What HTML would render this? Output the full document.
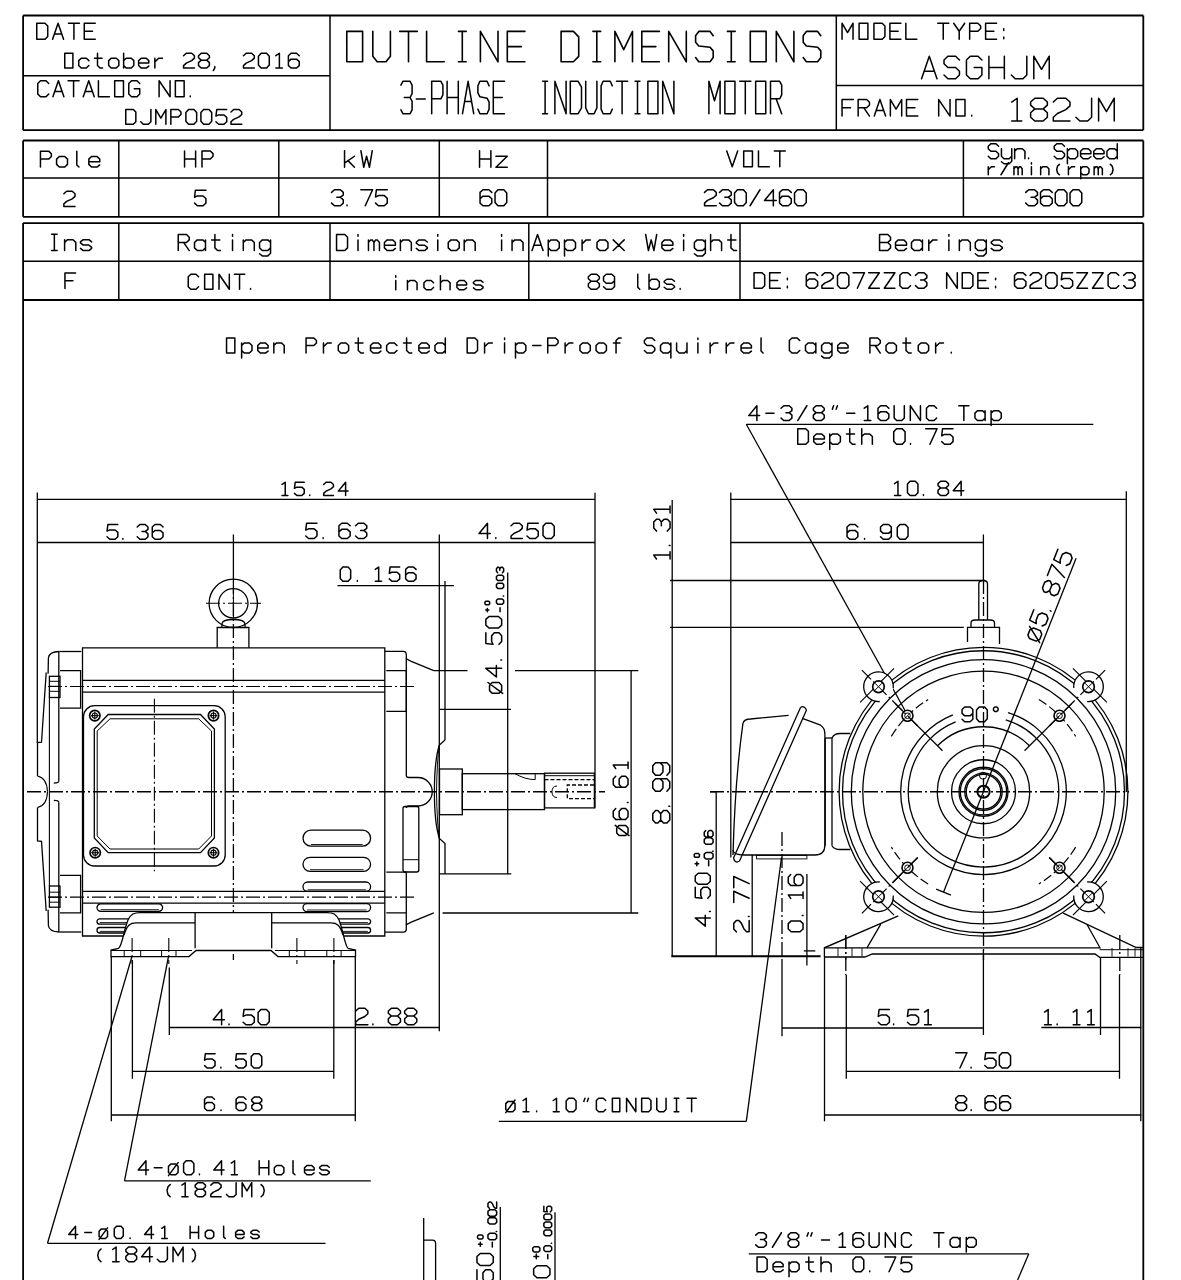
<!DOCTYPE html>
<html><head><meta charset="utf-8"><style>
html,body{margin:0;padding:0;background:#fff;font-family:"Liberation Sans",sans-serif;}
svg{display:block;}
text{white-space:pre;}
</style></head><body>
<svg width="1181" height="1280" viewBox="0 0 1181 1280" stroke-linecap="butt">
<rect width="1181" height="1280" fill="#fff"/>
<line x1="23.10" y1="15.50" x2="1143.30" y2="15.50" stroke="#000" stroke-width="1.80"/>
<line x1="23.10" y1="130.20" x2="1143.30" y2="130.20" stroke="#000" stroke-width="1.80"/>
<line x1="23.10" y1="15.50" x2="23.10" y2="130.20" stroke="#000" stroke-width="1.80"/>
<line x1="1143.30" y1="15.50" x2="1143.30" y2="130.20" stroke="#000" stroke-width="1.80"/>
<line x1="330.00" y1="15.50" x2="330.00" y2="130.20" stroke="#000" stroke-width="1.50"/>
<line x1="836.30" y1="15.50" x2="836.30" y2="130.20" stroke="#000" stroke-width="1.50"/>
<line x1="23.10" y1="75.80" x2="330.00" y2="75.80" stroke="#000" stroke-width="1.50"/>
<line x1="836.30" y1="85.50" x2="1143.30" y2="85.50" stroke="#000" stroke-width="1.50"/>
<path d="M36.75 39.25 L36.75 23.25 L44.99 23.25 L47.74 25.92 L47.74 36.58 L44.99 39.25 L36.75 39.25 M52.59 39.25 L58.08 23.25 L63.57 39.25 M54.43 33.92 L61.73 33.92 M68.43 23.25 L79.41 23.25 M73.92 23.25 L73.92 39.25 M95.25 23.25 L84.26 23.25 L84.26 39.25 L95.25 39.25 M84.26 31.25 L92.50 31.25" fill="none" stroke="#000" stroke-width="1.50" stroke-linecap="round" stroke-linejoin="round"/>
<path d="M64.75 68.05 L64.75 53.25 L72.88 53.25 L72.88 68.05 L64.75 68.05 M88.87 60.65 L86.33 58.18 L81.25 58.18 L78.71 60.65 L78.71 65.58 L81.25 68.05 L86.33 68.05 L88.87 65.58 M97.50 53.25 L97.50 65.58 L100.04 68.05 L102.58 68.05 M94.45 58.18 L102.07 58.18 M111.21 68.05 L108.67 65.58 L108.67 60.65 L111.21 58.18 L116.29 58.18 L118.83 60.65 L118.83 65.58 L116.29 68.05 L111.21 68.05 M123.64 53.25 L123.64 68.05 M123.64 65.58 L126.18 68.05 L131.27 68.05 L133.81 65.58 L133.81 60.65 L131.27 58.18 L126.18 58.18 L123.64 60.65 M138.62 63.12 L148.78 63.12 L148.78 60.65 L146.24 58.18 L141.16 58.18 L138.62 60.65 L138.62 65.58 L141.16 68.05 L146.24 68.05 L148.78 66.08 M154.87 58.18 L154.87 68.05 M154.87 61.88 L158.68 58.18 L162.49 58.18 M183.55 55.72 L186.27 53.25 L191.69 53.25 L194.41 55.72 L194.41 58.18 L191.69 60.65 L186.27 63.12 L183.55 65.58 L183.55 68.05 L194.41 68.05 M201.24 60.16 L198.53 57.69 L198.53 55.72 L201.24 53.25 L206.67 53.25 L209.38 55.72 L209.38 57.69 L206.67 60.16 L201.24 60.16 L198.53 62.62 L198.53 65.58 L201.24 68.05 L206.67 68.05 L209.38 65.58 L209.38 62.62 L206.67 60.16 M214.78 66.57 L214.78 68.05 L213.25 70.52 M243.46 55.72 L246.18 53.25 L251.60 53.25 L254.32 55.72 L254.32 58.18 L251.60 60.65 L246.18 63.12 L243.46 65.58 L243.46 68.05 L254.32 68.05 M261.15 68.05 L258.44 65.09 L258.44 56.21 L261.15 53.25 L266.58 53.25 L269.29 56.21 L269.29 65.09 L266.58 68.05 L261.15 68.05 M275.86 55.72 L279.39 53.25 L279.39 68.05 M275.86 68.05 L282.37 68.05 M299.25 55.72 L296.54 53.25 L291.11 53.25 L288.40 55.72 L288.40 65.58 L291.11 68.05 L296.54 68.05 L299.25 65.58 L299.25 61.64 L296.54 59.17 L291.11 59.17 L288.40 61.64" fill="none" stroke="#000" stroke-width="1.50" stroke-linecap="round" stroke-linejoin="round"/>
<path d="M48.74 83.42 L45.99 80.75 L40.50 80.75 L37.75 83.42 L37.75 94.08 L40.50 96.75 L45.99 96.75 L48.74 94.08 M52.92 96.75 L58.41 80.75 L63.90 96.75 M54.76 91.42 L62.06 91.42 M68.09 80.75 L79.07 80.75 M73.58 80.75 L73.58 96.75 M83.25 96.75 L88.75 80.75 L94.24 96.75 M85.09 91.42 L92.40 91.42 M98.42 80.75 L98.42 96.75 L109.41 96.75 M114.69 96.75 L114.69 80.75 L123.48 80.75 L123.48 96.75 L114.69 96.75 M139.74 83.42 L137.00 80.75 L131.50 80.75 L128.76 83.42 L128.76 94.08 L131.50 96.75 L137.00 96.75 L139.74 94.08 L139.74 88.75 L134.25 88.75 M159.09 96.75 L159.09 80.75 L170.08 96.75 L170.08 80.75 M175.36 96.75 L175.36 80.75 L184.15 80.75 L184.15 96.75 L175.36 96.75 M190.25 96.75 L190.25 95.95" fill="none" stroke="#000" stroke-width="1.50" stroke-linecap="round" stroke-linejoin="round"/>
<path d="M125.75 124.25 L125.75 109.55 L133.32 109.55 L135.84 112.00 L135.84 121.80 L133.32 124.25 L125.75 124.25 M150.88 109.55 L150.88 121.80 L148.35 124.25 L143.30 124.25 L140.78 121.80 M155.81 124.25 L155.81 109.55 L160.86 118.12 L165.91 109.55 L165.91 124.25 M170.84 124.25 L170.84 109.55 L178.41 109.55 L180.94 112.00 L180.94 114.45 L178.41 116.90 L170.84 116.90 M188.57 124.25 L185.88 121.31 L185.88 112.49 L188.57 109.55 L193.96 109.55 L196.66 112.49 L196.66 121.31 L193.96 124.25 L188.57 124.25 M203.60 124.25 L200.91 121.31 L200.91 112.49 L203.60 109.55 L208.99 109.55 L211.69 112.49 L211.69 121.31 L208.99 124.25 L203.60 124.25 M226.72 109.55 L216.75 109.55 L215.94 116.16 L218.63 114.94 L224.02 114.94 L226.72 117.39 L226.72 121.80 L224.02 124.25 L218.63 124.25 L215.94 121.80 M230.97 112.00 L233.66 109.55 L239.06 109.55 L241.75 112.00 L241.75 114.45 L239.06 116.90 L233.66 119.35 L230.97 121.80 L230.97 124.25 L241.75 124.25" fill="none" stroke="#000" stroke-width="1.50" stroke-linecap="round" stroke-linejoin="round"/>
<path d="M842.05 39.25 L842.05 23.25 L847.54 32.58 L853.04 23.25 L853.04 39.25 M859.10 39.25 L859.10 23.25 L867.89 23.25 L867.89 39.25 L859.10 39.25 M873.95 39.25 L873.95 23.25 L882.19 23.25 L884.94 25.92 L884.94 36.58 L882.19 39.25 L873.95 39.25 M900.89 23.25 L889.90 23.25 L889.90 39.25 L900.89 39.25 M889.90 31.25 L898.14 31.25 M905.85 23.25 L905.85 39.25 L916.84 39.25 M937.75 23.25 L948.74 23.25 M943.24 23.25 L943.24 39.25 M953.70 23.25 L959.20 31.25 L964.69 23.25 M959.20 31.25 L959.20 39.25 M969.65 39.25 L969.65 23.25 L977.89 23.25 L980.64 25.92 L980.64 28.58 L977.89 31.25 L969.65 31.25 M996.59 23.25 L985.60 23.25 L985.60 39.25 L996.59 39.25 M985.60 31.25 L993.84 31.25 M1003.75 30.45 L1003.75 28.85 M1003.75 38.72 L1003.75 37.12" fill="none" stroke="#000" stroke-width="1.50" stroke-linecap="round" stroke-linejoin="round"/>
<path d="M921.55 78.75 L929.27 56.25 L937.00 78.75 M924.14 71.25 L934.41 71.25 M959.45 60.00 L955.59 56.25 L947.86 56.25 L944.00 60.00 L944.00 63.75 L947.86 67.50 L955.59 67.50 L959.45 71.25 L959.45 75.00 L955.59 78.75 L947.86 78.75 L944.00 75.00 M981.90 60.00 L978.04 56.25 L970.31 56.25 L966.45 60.00 L966.45 75.00 L970.31 78.75 L978.04 78.75 L981.90 75.00 L981.90 67.50 L974.17 67.50 M988.90 78.75 L988.90 56.25 M1004.35 78.75 L1004.35 56.25 M988.90 67.50 L1004.35 67.50 M1026.80 56.25 L1026.80 75.00 L1022.94 78.75 L1015.21 78.75 L1011.35 75.00 M1033.80 78.75 L1033.80 56.25 L1041.53 69.38 L1049.25 56.25 L1049.25 78.75" fill="none" stroke="#000" stroke-width="1.50" stroke-linecap="round" stroke-linejoin="round"/>
<path d="M853.38 99.55 L842.05 99.55 L842.05 116.05 M842.05 107.80 L850.55 107.80 M858.16 116.05 L858.16 99.55 L866.65 99.55 L869.49 102.30 L869.49 105.05 L866.65 107.80 L858.16 107.80 M863.82 107.80 L869.49 116.05 M874.26 116.05 L879.93 99.55 L885.59 116.05 M876.16 110.55 L883.69 110.55 M890.37 116.05 L890.37 99.55 L896.03 109.17 L901.70 99.55 L901.70 116.05 M917.81 99.55 L906.48 99.55 L906.48 116.05 L917.81 116.05 M906.48 107.80 L914.97 107.80 M938.69 116.05 L938.69 99.55 L950.02 116.05 L950.02 99.55 M955.93 116.05 L955.93 99.55 L964.99 99.55 L964.99 116.05 L955.93 116.05 M971.75 116.05 L971.75 115.22" fill="none" stroke="#000" stroke-width="1.50" stroke-linecap="round" stroke-linejoin="round"/>
<path d="M1011.75 102.05 L1017.18 98.25 L1017.18 121.05 M1011.75 121.05 L1021.78 121.05 M1034.82 108.89 L1030.64 105.09 L1030.64 102.05 L1034.82 98.25 L1043.18 98.25 L1047.36 102.05 L1047.36 105.09 L1043.18 108.89 L1034.82 108.89 L1030.64 112.69 L1030.64 117.25 L1034.82 121.05 L1043.18 121.05 L1047.36 117.25 L1047.36 112.69 L1043.18 108.89 M1053.29 102.05 L1057.47 98.25 L1065.83 98.25 L1070.01 102.05 L1070.01 105.85 L1065.83 109.65 L1057.47 113.45 L1053.29 117.25 L1053.29 121.05 L1070.01 121.05 M1091.60 98.25 L1091.60 117.25 L1087.68 121.05 L1079.86 121.05 L1075.94 117.25 M1098.59 121.05 L1098.59 98.25 L1106.42 111.55 L1114.25 98.25 L1114.25 121.05" fill="none" stroke="#000" stroke-width="1.50" stroke-linecap="round" stroke-linejoin="round"/>
<path d="M346.78 31.40 L362.62 31.40 L362.62 61.80 L346.78 61.80 Z M372.80 31.40 L372.80 56.33 L377.20 61.80 L386.00 61.80 L390.40 56.33 L390.40 31.40 M399.70 31.40 L417.30 31.40 M408.50 31.40 L408.50 61.80 M426.60 31.40 L426.60 61.80 L444.20 61.80 M458.43 31.40 L466.17 31.40 M462.30 31.40 L462.30 61.80 M458.43 61.80 L466.17 61.80 M480.40 61.80 L480.40 31.40 L498.00 61.80 L498.00 31.40 M524.90 31.40 L507.30 31.40 L507.30 61.80 L524.90 61.80 M507.30 46.60 L521.38 46.60 M561.10 31.40 L561.10 61.80 L573.42 61.80 L578.70 56.33 L578.70 36.87 L573.42 31.40 Z M592.93 31.40 L600.67 31.40 M596.80 31.40 L596.80 61.80 M592.93 61.80 L600.67 61.80 M614.90 61.80 L614.90 31.40 L623.70 49.64 L632.50 31.40 L632.50 61.80 M659.40 31.40 L641.80 31.40 L641.80 61.80 L659.40 61.80 M641.80 46.60 L655.88 46.60 M668.70 61.80 L668.70 31.40 L686.30 61.80 L686.30 31.40 M713.20 35.66 L710.03 31.40 L698.77 31.40 L695.60 35.66 L695.60 42.34 L698.77 45.99 L710.03 47.21 L713.20 50.86 L713.20 57.54 L710.03 61.80 L698.77 61.80 L695.60 57.54 M727.43 31.40 L735.17 31.40 M731.30 31.40 L731.30 61.80 M727.43 61.80 L735.17 61.80 M750.28 31.40 L766.12 31.40 L766.12 61.80 L750.28 61.80 Z M776.30 61.80 L776.30 31.40 L793.90 61.80 L793.90 31.40 M820.80 35.66 L817.63 31.40 L806.37 31.40 L803.20 35.66 L803.20 42.34 L806.37 45.99 L817.63 47.21 L820.80 50.86 L820.80 57.54 L817.63 61.80 L806.37 61.80 L803.20 57.54" fill="none" stroke="#000" stroke-width="1.60" stroke-linejoin="round" stroke-linecap="round"/>
<path d="M400.90 85.19 L402.92 81.30 L410.08 81.30 L412.10 85.19 L412.10 93.61 L410.08 97.50 L404.26 97.50 M410.08 97.50 L412.10 101.39 L412.10 109.81 L410.08 113.70 L402.92 113.70 L400.90 109.81 M416.30 99.12 L425.26 99.12 M431.70 113.70 L431.70 81.30 L440.88 81.30 L442.90 85.19 L442.90 94.91 L440.88 98.80 L431.70 98.80 M447.10 81.30 L447.10 113.70 M458.30 81.30 L458.30 113.70 M447.10 97.50 L458.30 97.50 M462.50 113.70 L468.10 81.30 L473.70 113.70 M464.96 101.39 L471.24 101.39 M489.10 85.84 L487.08 81.30 L479.92 81.30 L477.90 85.84 L477.90 92.96 L479.92 96.85 L487.08 98.15 L489.10 102.04 L489.10 109.16 L487.08 113.70 L479.92 113.70 L477.90 109.16 M504.50 81.30 L493.30 81.30 L493.30 113.70 L504.50 113.70 M493.30 97.50 L502.26 97.50 M542.64 81.30 L547.56 81.30 M545.10 81.30 L545.10 113.70 M542.64 113.70 L547.56 113.70 M554.90 113.70 L554.90 81.30 L566.10 113.70 L566.10 81.30 M570.30 81.30 L570.30 113.70 L578.14 113.70 L581.50 107.87 L581.50 87.13 L578.14 81.30 Z M585.70 81.30 L585.70 107.87 L588.50 113.70 L594.10 113.70 L596.90 107.87 L596.90 81.30 M612.30 85.84 L610.28 81.30 L603.12 81.30 L601.10 85.84 L601.10 109.16 L603.12 113.70 L610.28 113.70 L612.30 109.16 M616.50 81.30 L627.70 81.30 M622.10 81.30 L622.10 113.70 M635.04 81.30 L639.96 81.30 M637.50 81.30 L637.50 113.70 M635.04 113.70 L639.96 113.70 M647.86 81.30 L657.94 81.30 L657.94 113.70 L647.86 113.70 Z M662.70 113.70 L662.70 81.30 L673.90 113.70 L673.90 81.30 M708.90 113.70 L708.90 81.30 L714.50 100.74 L720.10 81.30 L720.10 113.70 M724.86 81.30 L734.94 81.30 L734.94 113.70 L724.86 113.70 Z M739.70 81.30 L750.90 81.30 M745.30 81.30 L745.30 113.70 M755.66 81.30 L765.74 81.30 L765.74 113.70 L755.66 113.70 Z M770.50 113.70 L770.50 81.30 L779.68 81.30 L781.70 85.19 L781.70 94.91 L779.68 98.80 L770.50 98.80 M776.10 98.80 L781.70 113.70" fill="none" stroke="#000" stroke-width="1.50" stroke-linejoin="round" stroke-linecap="round"/>
<line x1="23.10" y1="140.50" x2="1143.30" y2="140.50" stroke="#000" stroke-width="1.80"/>
<line x1="23.10" y1="178.00" x2="1143.30" y2="178.00" stroke="#000" stroke-width="1.50"/>
<line x1="23.10" y1="216.80" x2="1143.30" y2="216.80" stroke="#000" stroke-width="1.80"/>
<line x1="23.10" y1="140.50" x2="23.10" y2="216.80" stroke="#000" stroke-width="1.80"/>
<line x1="1143.30" y1="140.50" x2="1143.30" y2="216.80" stroke="#000" stroke-width="1.80"/>
<line x1="118.80" y1="140.50" x2="118.80" y2="216.80" stroke="#000" stroke-width="1.50"/>
<line x1="278.80" y1="140.50" x2="278.80" y2="216.80" stroke="#000" stroke-width="1.50"/>
<line x1="439.30" y1="140.50" x2="439.30" y2="216.80" stroke="#000" stroke-width="1.50"/>
<line x1="547.50" y1="140.50" x2="547.50" y2="216.80" stroke="#000" stroke-width="1.50"/>
<line x1="963.40" y1="140.50" x2="963.40" y2="216.80" stroke="#000" stroke-width="1.50"/>
<path d="M40.45 167.05 L40.45 151.15 L48.64 151.15 L51.37 153.80 L51.37 156.45 L48.64 159.10 L40.45 159.10 M59.31 167.05 L56.58 164.40 L56.58 159.10 L59.31 156.45 L64.77 156.45 L67.50 159.10 L67.50 164.40 L64.77 167.05 L59.31 167.05 M76.80 151.15 L76.80 164.93 L78.98 167.05 M88.83 161.75 L99.75 161.75 L99.75 159.10 L97.02 156.45 L91.56 156.45 L88.83 159.10 L88.83 164.40 L91.56 167.05 L97.02 167.05 L99.75 164.93" fill="none" stroke="#000" stroke-width="1.50" stroke-linecap="round" stroke-linejoin="round"/>
<path d="M184.55 167.05 L184.55 150.95 M195.61 167.05 L195.61 150.95 M184.55 159.00 L195.61 159.00 M201.99 167.05 L201.99 150.95 L210.29 150.95 L213.05 153.63 L213.05 156.32 L210.29 159.00 L201.99 159.00" fill="none" stroke="#000" stroke-width="1.50" stroke-linecap="round" stroke-linejoin="round"/>
<path d="M344.55 150.75 L344.55 167.25 M354.46 156.25 L344.55 163.12 M347.95 160.65 L354.46 167.25 M360.92 150.75 L363.75 167.25 L366.58 156.25 L369.42 167.25 L372.25 150.75" fill="none" stroke="#000" stroke-width="1.50" stroke-linecap="round" stroke-linejoin="round"/>
<path d="M479.55 167.25 L479.55 150.75 M490.88 167.25 L490.88 150.75 M479.55 159.00 L490.88 159.00 M495.92 156.25 L507.25 156.25 L495.92 167.25 L507.25 167.25" fill="none" stroke="#000" stroke-width="1.50" stroke-linecap="round" stroke-linejoin="round"/>
<path d="M726.75 150.95 L732.21 166.85 L737.67 150.95 M743.70 166.85 L743.70 150.95 L752.44 150.95 L752.44 166.85 L743.70 166.85 M758.47 150.95 L758.47 166.85 L769.39 166.85 M774.33 150.95 L785.25 150.95 M779.79 150.95 L779.79 166.85" fill="none" stroke="#000" stroke-width="1.50" stroke-linecap="round" stroke-linejoin="round"/>
<path d="M998.55 146.25 L995.98 143.75 L990.83 143.75 L988.25 146.25 L988.25 148.75 L990.83 151.25 L995.98 151.25 L998.55 153.75 L998.55 156.25 L995.98 158.75 L990.83 158.75 L988.25 156.25 M1001.44 148.75 L1001.44 156.25 L1004.01 158.75 L1009.16 158.75 L1011.74 156.25 M1011.74 148.75 L1011.74 161.25 L1009.16 163.75 L1004.01 163.75 L1001.44 161.75 M1014.63 148.75 L1014.63 158.75 M1014.63 151.25 L1017.20 148.75 L1022.35 148.75 L1024.93 151.25 L1024.93 158.75 M1028.59 158.75 L1028.59 158.00 M1064.49 146.25 L1061.92 143.75 L1056.77 143.75 L1054.19 146.25 L1054.19 148.75 L1056.77 151.25 L1061.92 151.25 L1064.49 153.75 L1064.49 156.25 L1061.92 158.75 L1056.77 158.75 L1054.19 156.25 M1067.38 148.75 L1067.38 163.75 M1067.38 151.25 L1069.96 148.75 L1075.11 148.75 L1077.68 151.25 L1077.68 156.25 L1075.11 158.75 L1069.96 158.75 L1067.38 156.25 M1080.57 153.75 L1090.87 153.75 L1090.87 151.25 L1088.30 148.75 L1083.15 148.75 L1080.57 151.25 L1080.57 156.25 L1083.15 158.75 L1088.30 158.75 L1090.87 156.75 M1093.76 153.75 L1104.06 153.75 L1104.06 151.25 L1101.49 148.75 L1096.34 148.75 L1093.76 151.25 L1093.76 156.25 L1096.34 158.75 L1101.49 158.75 L1104.06 156.75 M1117.25 143.75 L1117.25 158.75 M1117.25 151.25 L1114.67 148.75 L1109.53 148.75 L1106.95 151.25 L1106.95 156.25 L1109.53 158.75 L1114.67 158.75 L1117.25 156.25" fill="none" stroke="#000" stroke-width="1.50" stroke-linecap="round" stroke-linejoin="round"/>
<path d="M988.25 166.75 L988.25 174.75 M988.25 169.75 L991.34 166.75 L994.43 166.75 M1001.00 174.75 L1008.41 162.75 M1013.95 166.75 L1013.95 174.75 M1013.95 168.75 L1015.59 166.75 L1016.83 166.75 L1018.07 168.75 L1018.07 174.75 M1018.07 168.75 L1019.30 166.75 L1020.54 166.75 L1022.19 168.75 L1022.19 174.75 M1031.43 166.75 L1031.43 174.75 M1031.43 163.95 L1031.43 162.75 M1040.67 166.75 L1040.67 174.75 M1040.67 168.75 L1042.73 166.75 L1046.85 166.75 L1048.91 168.75 L1048.91 174.75 M1059.39 164.35 L1057.54 166.15 L1056.71 169.55 L1057.54 172.95 L1059.39 174.75 M1068.43 166.75 L1068.43 174.75 M1068.43 169.75 L1071.52 166.75 L1074.61 166.75 M1080.76 166.75 L1080.76 178.75 M1080.76 168.75 L1082.82 166.75 L1086.94 166.75 L1089.00 168.75 L1089.00 172.75 L1086.94 174.75 L1082.82 174.75 L1080.76 172.75 M1094.12 166.75 L1094.12 174.75 M1094.12 168.75 L1095.77 166.75 L1097.01 166.75 L1098.24 168.75 L1098.24 174.75 M1098.24 168.75 L1099.48 166.75 L1100.72 166.75 L1102.36 168.75 L1102.36 174.75 M1110.37 164.35 L1112.23 166.15 L1113.05 169.55 L1112.23 172.95 L1110.37 174.75" fill="none" stroke="#000" stroke-width="1.50" stroke-linecap="round" stroke-linejoin="round"/>
<path d="M63.85 193.78 L66.64 191.25 L72.21 191.25 L75.00 193.78 L75.00 196.32 L72.21 198.85 L66.64 201.38 L63.85 203.92 L63.85 206.45 L75.00 206.45" fill="none" stroke="#000" stroke-width="1.50" stroke-linecap="round" stroke-linejoin="round"/>
<path d="M205.92 190.25 L195.40 190.25 L194.55 197.22 L197.39 195.93 L203.08 195.93 L205.92 198.52 L205.92 203.17 L203.08 205.75 L197.39 205.75 L194.55 203.17" fill="none" stroke="#000" stroke-width="1.50" stroke-linecap="round" stroke-linejoin="round"/>
<path d="M331.55 192.42 L334.48 189.75 L340.35 189.75 L343.28 192.42 L343.28 195.08 L340.35 197.22 L336.83 197.22 M340.35 197.22 L343.28 199.88 L343.28 203.08 L340.35 205.75 L334.48 205.75 L331.55 203.08 M347.03 205.75 L347.03 204.95 M360.86 189.75 L372.59 189.75 L365.26 205.75 M387.25 189.75 L376.40 189.75 L375.52 196.95 L378.45 195.62 L384.32 195.62 L387.25 198.28 L387.25 203.08 L384.32 205.75 L378.45 205.75 L375.52 203.08" fill="none" stroke="#000" stroke-width="1.50" stroke-linecap="round" stroke-linejoin="round"/>
<path d="M491.78 192.42 L488.85 189.75 L482.98 189.75 L480.05 192.42 L480.05 203.08 L482.98 205.75 L488.85 205.75 L491.78 203.08 L491.78 198.82 L488.85 196.15 L482.98 196.15 L480.05 198.82 M497.95 205.75 L495.02 202.55 L495.02 192.95 L497.95 189.75 L503.82 189.75 L506.75 192.95 L506.75 202.55 L503.82 205.75 L497.95 205.75" fill="none" stroke="#000" stroke-width="1.50" stroke-linecap="round" stroke-linejoin="round"/>
<path d="M704.55 192.42 L707.48 189.75 L713.35 189.75 L716.28 192.42 L716.28 195.08 L713.35 197.75 L707.48 200.42 L704.55 203.08 L704.55 205.75 L716.28 205.75 M719.54 192.42 L722.48 189.75 L728.34 189.75 L731.28 192.42 L731.28 195.08 L728.34 197.22 L724.82 197.22 M728.34 197.22 L731.28 199.88 L731.28 203.08 L728.34 205.75 L722.48 205.75 L719.54 203.08 M737.47 205.75 L734.54 202.55 L734.54 192.95 L737.47 189.75 L743.34 189.75 L746.27 192.95 L746.27 202.55 L743.34 205.75 L737.47 205.75 M750.08 205.75 L759.97 189.75 M773.33 205.75 L773.33 189.75 L764.53 200.42 L776.26 200.42 M791.26 192.42 L788.32 189.75 L782.46 189.75 L779.52 192.42 L779.52 203.08 L782.46 205.75 L788.32 205.75 L791.26 203.08 L791.26 198.82 L788.32 196.15 L782.46 196.15 L779.52 198.82 M797.45 205.75 L794.52 202.55 L794.52 192.95 L797.45 189.75 L803.32 189.75 L806.25 192.95 L806.25 202.55 L803.32 205.75 L797.45 205.75" fill="none" stroke="#000" stroke-width="1.50" stroke-linecap="round" stroke-linejoin="round"/>
<path d="M1025.75 192.42 L1028.68 189.75 L1034.55 189.75 L1037.48 192.42 L1037.48 195.08 L1034.55 197.22 L1031.03 197.22 M1034.55 197.22 L1037.48 199.88 L1037.48 203.08 L1034.55 205.75 L1028.68 205.75 L1025.75 203.08 M1052.24 192.42 L1049.31 189.75 L1043.44 189.75 L1040.51 192.42 L1040.51 203.08 L1043.44 205.75 L1049.31 205.75 L1052.24 203.08 L1052.24 198.82 L1049.31 196.15 L1043.44 196.15 L1040.51 198.82 M1058.19 205.75 L1055.26 202.55 L1055.26 192.95 L1058.19 189.75 L1064.06 189.75 L1066.99 192.95 L1066.99 202.55 L1064.06 205.75 L1058.19 205.75 M1072.95 205.75 L1070.02 202.55 L1070.02 192.95 L1072.95 189.75 L1078.82 189.75 L1081.75 192.95 L1081.75 202.55 L1078.82 205.75 L1072.95 205.75" fill="none" stroke="#000" stroke-width="1.50" stroke-linecap="round" stroke-linejoin="round"/>
<line x1="23.10" y1="223.10" x2="1143.30" y2="223.10" stroke="#000" stroke-width="1.80"/>
<line x1="23.10" y1="261.30" x2="1143.30" y2="261.30" stroke="#000" stroke-width="1.50"/>
<line x1="23.10" y1="300.00" x2="1143.30" y2="300.00" stroke="#000" stroke-width="1.80"/>
<line x1="118.80" y1="223.10" x2="118.80" y2="300.00" stroke="#000" stroke-width="1.50"/>
<line x1="330.00" y1="223.10" x2="330.00" y2="300.00" stroke="#000" stroke-width="1.50"/>
<line x1="528.80" y1="223.10" x2="528.80" y2="300.00" stroke="#000" stroke-width="1.50"/>
<line x1="740.00" y1="223.10" x2="740.00" y2="300.00" stroke="#000" stroke-width="1.50"/>
<line x1="23.10" y1="223.10" x2="23.10" y2="300.00" stroke="#000" stroke-width="1.80"/>
<line x1="1143.30" y1="223.10" x2="1143.30" y2="300.00" stroke="#000" stroke-width="1.80"/>
<path d="M51.55 234.25 L57.15 234.25 M54.35 234.25 L54.35 250.55 M51.55 250.55 L57.15 250.55 M64.60 239.68 L64.60 250.55 M64.60 242.40 L67.40 239.68 L73.00 239.68 L75.80 242.40 L75.80 250.55 M91.65 241.86 L88.85 239.68 L83.26 239.68 L80.46 241.86 L80.46 242.94 L83.26 245.12 L88.85 245.12 L91.65 247.29 L91.65 248.38 L88.85 250.55 L83.26 250.55 L80.46 248.38" fill="none" stroke="#000" stroke-width="1.50" stroke-linecap="round" stroke-linejoin="round"/>
<path d="M178.25 250.55 L178.25 234.55 L186.49 234.55 L189.24 237.22 L189.24 239.88 L186.49 242.55 L178.25 242.55 M183.74 242.55 L189.24 250.55 M205.50 239.88 L205.50 250.55 M205.50 242.55 L202.75 239.88 L197.26 239.88 L194.51 242.55 L194.51 247.88 L197.26 250.55 L202.75 250.55 L205.50 247.88 M214.90 234.55 L214.90 247.88 L217.64 250.55 L220.39 250.55 M211.60 239.88 L219.84 239.88 M232.53 239.88 L232.53 250.55 M232.53 236.15 L232.53 234.55 M243.30 239.88 L243.30 250.55 M243.30 242.55 L246.05 239.88 L251.54 239.88 L254.29 242.55 L254.29 250.55 M270.55 239.88 L270.55 253.22 L267.80 255.88 L262.31 255.88 L259.56 253.75 M270.55 242.55 L267.80 239.88 L262.31 239.88 L259.56 242.55 L259.56 247.88 L262.31 250.55 L267.80 250.55 L270.55 247.88" fill="none" stroke="#000" stroke-width="1.50" stroke-linecap="round" stroke-linejoin="round"/>
<path d="M336.55 250.55 L336.55 234.55 L344.79 234.55 L347.54 237.22 L347.54 247.88 L344.79 250.55 L336.55 250.55 M358.00 239.88 L358.00 250.55 M358.00 236.15 L358.00 234.55 M368.46 239.88 L368.46 250.55 M368.46 242.55 L370.66 239.88 L372.31 239.88 L373.95 242.55 L373.95 250.55 M373.95 242.55 L375.60 239.88 L377.25 239.88 L379.45 242.55 L379.45 250.55 M384.42 245.22 L395.40 245.22 L395.40 242.55 L392.66 239.88 L387.16 239.88 L384.42 242.55 L384.42 247.88 L387.16 250.55 L392.66 250.55 L395.40 248.42 M400.37 239.88 L400.37 250.55 M400.37 242.55 L403.12 239.88 L408.61 239.88 L411.36 242.55 L411.36 250.55 M427.32 242.02 L424.57 239.88 L419.08 239.88 L416.33 242.02 L416.33 243.08 L419.08 245.22 L424.57 245.22 L427.32 247.35 L427.32 248.42 L424.57 250.55 L419.08 250.55 L416.33 248.42 M437.78 239.88 L437.78 250.55 M437.78 236.15 L437.78 234.55 M450.99 250.55 L448.24 247.88 L448.24 242.55 L450.99 239.88 L456.48 239.88 L459.23 242.55 L459.23 247.88 L456.48 250.55 L450.99 250.55 M464.20 239.88 L464.20 250.55 M464.20 242.55 L466.94 239.88 L472.44 239.88 L475.18 242.55 L475.18 250.55 M501.60 239.88 L501.60 250.55 M501.60 236.15 L501.60 234.55 M512.06 239.88 L512.06 250.55 M512.06 242.55 L514.81 239.88 L520.30 239.88 L523.05 242.55 L523.05 250.55" fill="none" stroke="#000" stroke-width="1.50" stroke-linecap="round" stroke-linejoin="round"/>
<path d="M532.05 250.55 L537.54 234.55 L543.04 250.55 M533.89 245.22 L541.20 245.22 M548.28 239.88 L548.28 255.88 M548.28 242.55 L551.03 239.88 L556.52 239.88 L559.27 242.55 L559.27 247.88 L556.52 250.55 L551.03 250.55 L548.28 247.88 M564.51 239.88 L564.51 255.88 M564.51 242.55 L567.26 239.88 L572.75 239.88 L575.50 242.55 L575.50 247.88 L572.75 250.55 L567.26 250.55 L564.51 247.88 M582.12 239.88 L582.12 250.55 M582.12 243.88 L586.24 239.88 L590.36 239.88 M599.73 250.55 L596.98 247.88 L596.98 242.55 L599.73 239.88 L605.22 239.88 L607.97 242.55 L607.97 247.88 L605.22 250.55 L599.73 250.55 M613.21 239.88 L624.20 250.55 M613.21 250.55 L624.20 239.88 M645.68 234.55 L648.42 250.55 L651.17 239.88 L653.92 250.55 L656.66 234.55 M661.91 245.22 L672.89 245.22 L672.89 242.55 L670.15 239.88 L664.65 239.88 L661.91 242.55 L661.91 247.88 L664.65 250.55 L670.15 250.55 L672.89 248.42 M683.63 239.88 L683.63 250.55 M683.63 236.15 L683.63 234.55 M705.36 239.88 L705.36 253.22 L702.61 255.88 L697.12 255.88 L694.37 253.75 M705.36 242.55 L702.61 239.88 L697.12 239.88 L694.37 242.55 L694.37 247.88 L697.12 250.55 L702.61 250.55 L705.36 247.88 M710.60 234.55 L710.60 250.55 M710.60 242.55 L713.35 239.88 L718.84 239.88 L721.59 242.55 L721.59 250.55 M730.96 234.55 L730.96 247.88 L733.70 250.55 L736.45 250.55 M727.66 239.88 L735.90 239.88" fill="none" stroke="#000" stroke-width="1.50" stroke-linecap="round" stroke-linejoin="round"/>
<path d="M879.55 250.55 L879.55 234.55 L887.79 234.55 L890.54 237.22 L890.54 239.88 L887.79 242.55 L879.55 242.55 M887.79 242.55 L890.54 245.22 L890.54 247.88 L887.79 250.55 L879.55 250.55 M895.51 245.22 L906.50 245.22 L906.50 242.55 L903.75 239.88 L898.26 239.88 L895.51 242.55 L895.51 247.88 L898.26 250.55 L903.75 250.55 L906.50 248.42 M922.45 239.88 L922.45 250.55 M922.45 242.55 L919.71 239.88 L914.21 239.88 L911.47 242.55 L911.47 247.88 L914.21 250.55 L919.71 250.55 L922.45 247.88 M928.80 239.88 L928.80 250.55 M928.80 243.88 L932.92 239.88 L937.04 239.88 M948.88 239.88 L948.88 250.55 M948.88 236.15 L948.88 234.55 M959.35 239.88 L959.35 250.55 M959.35 242.55 L962.09 239.88 L967.59 239.88 L970.33 242.55 L970.33 250.55 M986.29 239.88 L986.29 253.22 L983.54 255.88 L978.05 255.88 L975.30 253.75 M986.29 242.55 L983.54 239.88 L978.05 239.88 L975.30 242.55 L975.30 247.88 L978.05 250.55 L983.54 250.55 L986.29 247.88 M1002.25 242.02 L999.50 239.88 L994.01 239.88 L991.26 242.02 L991.26 243.08 L994.01 245.22 L999.50 245.22 L1002.25 247.35 L1002.25 248.42 L999.50 250.55 L994.01 250.55 L991.26 248.42" fill="none" stroke="#000" stroke-width="1.50" stroke-linecap="round" stroke-linejoin="round"/>
<path d="M75.59 273.05 L64.95 273.05 L64.95 288.55 M64.95 280.80 L72.93 280.80" fill="none" stroke="#000" stroke-width="1.50" stroke-linecap="round" stroke-linejoin="round"/>
<path d="M198.55 276.75 L195.97 274.25 L190.82 274.25 L188.25 276.75 L188.25 286.75 L190.82 289.25 L195.97 289.25 L198.55 286.75 M204.66 289.25 L204.66 274.25 L212.90 274.25 L212.90 289.25 L204.66 289.25 M219.01 289.25 L219.01 274.25 L229.31 289.25 L229.31 274.25 M234.40 274.25 L244.70 274.25 M239.55 274.25 L239.55 289.25 M250.55 289.25 L250.55 288.50" fill="none" stroke="#000" stroke-width="1.50" stroke-linecap="round" stroke-linejoin="round"/>
<path d="M395.75 280.42 L395.75 289.75 M395.75 277.15 L395.75 275.75 M407.44 280.42 L407.44 289.75 M407.44 282.75 L409.85 280.42 L414.65 280.42 L417.06 282.75 L417.06 289.75 M433.55 282.75 L431.15 280.42 L426.34 280.42 L423.94 282.75 L423.94 287.42 L426.34 289.75 L431.15 289.75 L433.55 287.42 M440.44 275.75 L440.44 289.75 M440.44 282.75 L442.84 280.42 L447.65 280.42 L450.05 282.75 L450.05 289.75 M456.94 285.08 L466.55 285.08 L466.55 282.75 L464.15 280.42 L459.34 280.42 L456.94 282.75 L456.94 287.42 L459.34 289.75 L464.15 289.75 L466.55 287.88 M483.05 282.28 L480.65 280.42 L475.84 280.42 L473.44 282.28 L473.44 283.22 L475.84 285.08 L480.65 285.08 L483.05 286.95 L483.05 287.88 L480.65 289.75 L475.84 289.75 L473.44 287.88" fill="none" stroke="#000" stroke-width="1.50" stroke-linecap="round" stroke-linejoin="round"/>
<path d="M591.10 281.25 L588.35 278.75 L588.35 276.75 L591.10 274.25 L596.60 274.25 L599.35 276.75 L599.35 278.75 L596.60 281.25 L591.10 281.25 L588.35 283.75 L588.35 286.75 L591.10 289.25 L596.60 289.25 L599.35 286.75 L599.35 283.75 L596.60 281.25 M603.52 286.75 L606.27 289.25 L611.77 289.25 L614.52 286.75 L614.52 276.75 L611.77 274.25 L606.27 274.25 L603.52 276.75 L603.52 280.75 L606.27 283.25 L611.77 283.25 L614.52 280.75 M637.73 274.25 L637.73 287.25 L639.79 289.25 M649.03 274.25 L649.03 289.25 M649.03 286.75 L651.61 289.25 L656.76 289.25 L659.34 286.75 L659.34 281.75 L656.76 279.25 L651.61 279.25 L649.03 281.75 M674.51 281.25 L671.93 279.25 L666.78 279.25 L664.21 281.25 L664.21 282.25 L666.78 284.25 L671.93 284.25 L674.51 286.25 L674.51 287.25 L671.93 289.25 L666.78 289.25 L664.21 287.25 M680.15 289.25 L680.15 288.50" fill="none" stroke="#000" stroke-width="1.50" stroke-linecap="round" stroke-linejoin="round"/>
<path d="M754.05 288.25 L754.05 272.75 L762.03 272.75 L764.69 275.33 L764.69 285.67 L762.03 288.25 L754.05 288.25 M780.29 272.75 L769.65 272.75 L769.65 288.25 L780.29 288.25 M769.65 280.50 L777.63 280.50 M787.37 279.73 L787.37 278.18 M787.37 287.73 L787.37 286.18 M817.66 275.33 L814.82 272.75 L809.14 272.75 L806.30 275.33 L806.30 285.67 L809.14 288.25 L814.82 288.25 L817.66 285.67 L817.66 281.53 L814.82 278.95 L809.14 278.95 L806.30 281.53 M821.89 275.33 L824.74 272.75 L830.42 272.75 L833.26 275.33 L833.26 277.92 L830.42 280.50 L824.74 283.08 L821.89 285.67 L821.89 288.25 L833.26 288.25 M840.33 288.25 L837.49 285.15 L837.49 275.85 L840.33 272.75 L846.02 272.75 L848.86 275.85 L848.86 285.15 L846.02 288.25 L840.33 288.25 M853.09 272.75 L864.45 272.75 L857.35 288.25 M868.68 272.75 L879.33 272.75 L868.68 288.25 L879.33 288.25 M884.28 272.75 L894.92 272.75 L884.28 288.25 L894.92 288.25 M910.52 275.33 L907.86 272.75 L902.54 272.75 L899.88 275.33 L899.88 285.67 L902.54 288.25 L907.86 288.25 L910.52 285.67 M915.47 275.33 L918.31 272.75 L924.00 272.75 L926.84 275.33 L926.84 277.92 L924.00 279.98 L920.59 279.98 M924.00 279.98 L926.84 282.57 L926.84 285.67 L924.00 288.25 L918.31 288.25 L915.47 285.67 M946.66 288.25 L946.66 272.75 L957.31 288.25 L957.31 272.75 M962.26 288.25 L962.26 272.75 L970.24 272.75 L972.90 275.33 L972.90 285.67 L970.24 288.25 L962.26 288.25 M988.50 272.75 L977.86 272.75 L977.86 288.25 L988.50 288.25 M977.86 280.50 L985.84 280.50 M995.58 279.73 L995.58 278.18 M995.58 287.73 L995.58 286.18 M1025.88 275.33 L1023.03 272.75 L1017.35 272.75 L1014.51 275.33 L1014.51 285.67 L1017.35 288.25 L1023.03 288.25 L1025.88 285.67 L1025.88 281.53 L1023.03 278.95 L1017.35 278.95 L1014.51 281.53 M1030.11 275.33 L1032.95 272.75 L1038.63 272.75 L1041.47 275.33 L1041.47 277.92 L1038.63 280.50 L1032.95 283.08 L1030.11 285.67 L1030.11 288.25 L1041.47 288.25 M1048.54 288.25 L1045.70 285.15 L1045.70 275.85 L1048.54 272.75 L1054.23 272.75 L1057.07 275.85 L1057.07 285.15 L1054.23 288.25 L1048.54 288.25 M1072.66 272.75 L1062.15 272.75 L1061.30 279.73 L1064.14 278.43 L1069.82 278.43 L1072.66 281.02 L1072.66 285.67 L1069.82 288.25 L1064.14 288.25 L1061.30 285.67 M1076.89 272.75 L1087.54 272.75 L1076.89 288.25 L1087.54 288.25 M1092.49 272.75 L1103.13 272.75 L1092.49 288.25 L1103.13 288.25 M1118.73 275.33 L1116.07 272.75 L1110.75 272.75 L1108.09 275.33 L1108.09 285.67 L1110.75 288.25 L1116.07 288.25 L1118.73 285.67 M1123.68 275.33 L1126.52 272.75 L1132.21 272.75 L1135.05 275.33 L1135.05 277.92 L1132.21 279.98 L1128.80 279.98 M1132.21 279.98 L1135.05 282.57 L1135.05 285.67 L1132.21 288.25 L1126.52 288.25 L1123.68 285.67" fill="none" stroke="#000" stroke-width="1.50" stroke-linecap="round" stroke-linejoin="round"/>
<line x1="23.10" y1="300.00" x2="23.10" y2="1282.00" stroke="#000" stroke-width="1.80"/>
<line x1="1143.30" y1="300.00" x2="1143.30" y2="1282.00" stroke="#000" stroke-width="1.80"/>
<path d="M226.55 353.05 L226.55 337.95 L234.84 337.95 L234.84 353.05 L226.55 353.05 M241.62 342.98 L241.62 358.08 M241.62 345.50 L244.22 342.98 L249.40 342.98 L251.99 345.50 L251.99 350.53 L249.40 353.05 L244.22 353.05 L241.62 350.53 M257.73 348.02 L268.10 348.02 L268.10 345.50 L265.51 342.98 L260.33 342.98 L257.73 345.50 L257.73 350.53 L260.33 353.05 L265.51 353.05 L268.10 351.04 M273.84 342.98 L273.84 353.05 M273.84 345.50 L276.44 342.98 L281.62 342.98 L284.21 345.50 L284.21 353.05 M306.06 353.05 L306.06 337.95 L313.84 337.95 L316.43 340.47 L316.43 342.98 L313.84 345.50 L306.06 345.50 M323.47 342.98 L323.47 353.05 M323.47 346.76 L327.36 342.98 L331.25 342.98 M340.88 353.05 L338.28 350.53 L338.28 345.50 L340.88 342.98 L346.06 342.98 L348.65 345.50 L348.65 350.53 L346.06 353.05 L340.88 353.05 M358.28 337.95 L358.28 350.53 L360.88 353.05 L363.47 353.05 M355.17 342.98 L362.95 342.98 M370.50 348.02 L380.87 348.02 L380.87 345.50 L378.28 342.98 L373.10 342.98 L370.50 345.50 L370.50 350.53 L373.10 353.05 L378.28 353.05 L380.87 351.04 M396.98 345.50 L394.39 342.98 L389.21 342.98 L386.62 345.50 L386.62 350.53 L389.21 353.05 L394.39 353.05 L396.98 350.53 M406.61 337.95 L406.61 350.53 L409.21 353.05 L411.80 353.05 M403.50 342.98 L411.28 342.98 M418.84 348.02 L429.20 348.02 L429.20 345.50 L426.61 342.98 L421.43 342.98 L418.84 345.50 L418.84 350.53 L421.43 353.05 L426.61 353.05 L429.20 351.04 M445.31 337.95 L445.31 353.05 M445.31 345.50 L442.72 342.98 L437.54 342.98 L434.95 345.50 L434.95 350.53 L437.54 353.05 L442.72 353.05 L445.31 350.53 M467.17 353.05 L467.17 337.95 L474.94 337.95 L477.53 340.47 L477.53 350.53 L474.94 353.05 L467.17 353.05 M484.57 342.98 L484.57 353.05 M484.57 346.76 L488.46 342.98 L492.35 342.98 M504.57 342.98 L504.57 353.05 M504.57 339.46 L504.57 337.95 M515.50 342.98 L515.50 358.08 M515.50 345.50 L518.09 342.98 L523.27 342.98 L525.87 345.50 L525.87 350.53 L523.27 353.05 L518.09 353.05 L515.50 350.53 M532.64 345.50 L540.94 345.50 M547.72 353.05 L547.72 337.95 L555.49 337.95 L558.09 340.47 L558.09 342.98 L555.49 345.50 L547.72 345.50 M565.12 342.98 L565.12 353.05 M565.12 346.76 L569.01 342.98 L572.90 342.98 M582.53 353.05 L579.94 350.53 L579.94 345.50 L582.53 342.98 L587.71 342.98 L590.31 345.50 L590.31 350.53 L587.71 353.05 L582.53 353.05 M598.64 353.05 L596.05 350.53 L596.05 345.50 L598.64 342.98 L603.82 342.98 L606.42 345.50 L606.42 350.53 L603.82 353.05 L598.64 353.05 M621.23 337.95 L618.64 337.95 L616.05 340.47 L616.05 353.05 M613.45 342.98 L619.93 342.98 M654.75 340.47 L652.15 337.95 L646.97 337.95 L644.38 340.47 L644.38 342.98 L646.97 345.50 L652.15 345.50 L654.75 348.02 L654.75 350.53 L652.15 353.05 L646.97 353.05 L644.38 350.53 M670.86 342.98 L670.86 358.08 M670.86 345.50 L668.27 342.98 L663.08 342.98 L660.49 345.50 L660.49 350.53 L663.08 353.05 L668.27 353.05 L670.86 350.53 M676.60 342.98 L676.60 350.53 L679.19 353.05 L684.38 353.05 L686.97 350.53 M686.97 342.98 L686.97 353.05 M697.89 342.98 L697.89 353.05 M697.89 339.46 L697.89 337.95 M710.12 342.98 L710.12 353.05 M710.12 346.76 L714.00 342.98 L717.89 342.98 M726.23 342.98 L726.23 353.05 M726.23 346.76 L730.11 342.98 L734.00 342.98 M741.04 348.02 L751.41 348.02 L751.41 345.50 L748.82 342.98 L743.63 342.98 L741.04 345.50 L741.04 350.53 L743.63 353.05 L748.82 353.05 L751.41 351.04 M761.04 337.95 L761.04 351.04 L763.11 353.05 M799.74 340.47 L797.15 337.95 L791.96 337.95 L789.37 340.47 L789.37 350.53 L791.96 353.05 L797.15 353.05 L799.74 350.53 M815.85 342.98 L815.85 353.05 M815.85 345.50 L813.26 342.98 L808.07 342.98 L805.48 345.50 L805.48 350.53 L808.07 353.05 L813.26 353.05 L815.85 350.53 M831.96 342.98 L831.96 355.57 L829.37 358.08 L824.18 358.08 L821.59 356.07 M831.96 345.50 L829.37 342.98 L824.18 342.98 L821.59 345.50 L821.59 350.53 L824.18 353.05 L829.37 353.05 L831.96 350.53 M837.70 348.02 L848.07 348.02 L848.07 345.50 L845.48 342.98 L840.29 342.98 L837.70 345.50 L837.70 350.53 L840.29 353.05 L845.48 353.05 L848.07 351.04 M869.92 353.05 L869.92 337.95 L877.70 337.95 L880.29 340.47 L880.29 342.98 L877.70 345.50 L869.92 345.50 M875.11 345.50 L880.29 353.05 M888.62 353.05 L886.03 350.53 L886.03 345.50 L888.62 342.98 L893.81 342.98 L896.40 345.50 L896.40 350.53 L893.81 353.05 L888.62 353.05 M906.03 337.95 L906.03 350.53 L908.62 353.05 L911.21 353.05 M902.92 342.98 L910.70 342.98 M920.84 353.05 L918.25 350.53 L918.25 345.50 L920.84 342.98 L926.03 342.98 L928.62 345.50 L928.62 350.53 L926.03 353.05 L920.84 353.05 M935.66 342.98 L935.66 353.05 M935.66 346.76 L939.55 342.98 L943.43 342.98 M951.25 353.05 L951.25 352.30" fill="none" stroke="#000" stroke-width="1.50" stroke-linecap="round" stroke-linejoin="round"/>
<path d="M756.89 420.55 L756.89 405.75 L748.75 415.62 L759.60 415.62 M765.92 413.15 L774.05 413.15 M781.06 408.22 L783.77 405.75 L789.20 405.75 L791.91 408.22 L791.91 410.68 L789.20 412.66 L785.95 412.66 M789.20 412.66 L791.91 415.12 L791.91 418.08 L789.20 420.55 L783.77 420.55 L781.06 418.08 M797.73 420.55 L806.87 405.75 M816.09 412.66 L813.37 410.19 L813.37 408.22 L816.09 405.75 L821.51 405.75 L824.23 408.22 L824.23 410.19 L821.51 412.66 L816.09 412.66 L813.37 415.12 L813.37 418.08 L816.09 420.55 L821.51 420.55 L824.23 418.08 L824.23 415.12 L821.51 412.66 M833.59 405.75 L832.32 409.20 M837.41 405.75 L836.13 409.20 M846.70 413.15 L854.83 413.15 M864.28 408.22 L867.81 405.75 L867.81 420.55 M864.28 420.55 L870.79 420.55 M888.85 408.22 L886.14 405.75 L880.71 405.75 L878.00 408.22 L878.00 418.08 L880.71 420.55 L886.14 420.55 L888.85 418.08 L888.85 414.14 L886.14 411.67 L880.71 411.67 L878.00 414.14 M894.15 405.75 L894.15 418.08 L896.69 420.55 L901.77 420.55 L904.32 418.08 L904.32 405.75 M910.31 420.55 L910.31 405.75 L920.47 420.55 L920.47 405.75 M936.63 408.22 L934.09 405.75 L929.00 405.75 L926.46 408.22 L926.46 418.08 L929.00 420.55 L934.09 420.55 L936.63 418.08 M958.78 405.75 L968.94 405.75 M963.86 405.75 L963.86 420.55 M985.09 410.68 L985.09 420.55 M985.09 413.15 L982.55 410.68 L977.47 410.68 L974.93 413.15 L974.93 418.08 L977.47 420.55 L982.55 420.55 L985.09 418.08 M991.09 410.68 L991.09 425.48 M991.09 413.15 L993.63 410.68 L998.71 410.68 L1001.25 413.15 L1001.25 418.08 L998.71 420.55 L993.63 420.55 L991.09 418.08" fill="none" stroke="#000" stroke-width="1.50" stroke-linecap="round" stroke-linejoin="round"/>
<path d="M797.75 444.25 L797.75 428.75 L805.73 428.75 L808.39 431.33 L808.39 441.67 L805.73 444.25 L797.75 444.25 M813.74 439.08 L824.39 439.08 L824.39 436.50 L821.73 433.92 L816.40 433.92 L813.74 436.50 L813.74 441.67 L816.40 444.25 L821.73 444.25 L824.39 442.18 M829.74 433.92 L829.74 449.42 M829.74 436.50 L832.40 433.92 L837.72 433.92 L840.38 436.50 L840.38 441.67 L837.72 444.25 L832.40 444.25 L829.74 441.67 M849.72 428.75 L849.72 441.67 L852.38 444.25 L855.04 444.25 M846.53 433.92 L854.51 433.92 M861.72 428.75 L861.72 444.25 M861.72 436.50 L864.38 433.92 L869.70 433.92 L872.36 436.50 L872.36 444.25 M896.55 444.25 L893.71 441.15 L893.71 431.85 L896.55 428.75 L902.23 428.75 L905.07 431.85 L905.07 441.15 L902.23 444.25 L896.55 444.25 M910.50 444.25 L910.50 443.48 M925.69 428.75 L937.06 428.75 L929.95 444.25 M953.05 428.75 L942.54 428.75 L941.68 435.73 L944.52 434.43 L950.21 434.43 L953.05 437.02 L953.05 441.67 L950.21 444.25 L944.52 444.25 L941.68 441.67" fill="none" stroke="#000" stroke-width="1.50" stroke-linecap="round" stroke-linejoin="round"/>
<path d="M282.05 484.47 L285.22 482.25 L285.22 495.55 M282.05 495.55 L287.90 495.55 M304.22 482.25 L295.20 482.25 L294.47 488.24 L296.90 487.13 L301.78 487.13 L304.22 489.34 L304.22 493.33 L301.78 495.55 L296.90 495.55 L294.47 493.33 M309.76 495.55 L309.76 494.88 M323.69 484.47 L326.12 482.25 L331.00 482.25 L333.44 484.47 L333.44 486.68 L331.00 488.90 L326.12 491.12 L323.69 493.33 L323.69 495.55 L333.44 495.55 M345.61 495.55 L345.61 482.25 L338.30 491.12 L348.05 491.12" fill="none" stroke="#000" stroke-width="1.50" stroke-linecap="round" stroke-linejoin="round"/>
<path d="M894.55 483.63 L897.96 481.25 L897.96 495.55 M894.55 495.55 L900.84 495.55 M910.08 495.55 L907.46 492.69 L907.46 484.11 L910.08 481.25 L915.32 481.25 L917.95 484.11 L917.95 492.69 L915.32 495.55 L910.08 495.55 M923.46 495.55 L923.46 494.84 M940.62 487.92 L938.00 485.54 L938.00 483.63 L940.62 481.25 L945.86 481.25 L948.48 483.63 L948.48 485.54 L945.86 487.92 L940.62 487.92 L938.00 490.31 L938.00 493.17 L940.62 495.55 L945.86 495.55 L948.48 493.17 L948.48 490.31 L945.86 487.92 M961.13 495.55 L961.13 481.25 L953.26 490.78 L963.75 490.78" fill="none" stroke="#000" stroke-width="1.50" stroke-linecap="round" stroke-linejoin="round"/>
<path d="M117.83 524.55 L107.86 524.55 L107.05 531.16 L109.75 529.94 L115.14 529.94 L117.83 532.39 L117.83 536.80 L115.14 539.25 L109.75 539.25 L107.05 536.80 M122.88 539.25 L122.88 538.51 M137.20 527.00 L139.89 524.55 L145.28 524.55 L147.98 527.00 L147.98 529.45 L145.28 531.41 L142.05 531.41 M145.28 531.41 L147.98 533.86 L147.98 536.80 L145.28 539.25 L139.89 539.25 L137.20 536.80 M163.05 527.00 L160.36 524.55 L154.96 524.55 L152.27 527.00 L152.27 536.80 L154.96 539.25 L160.36 539.25 L163.05 536.80 L163.05 532.88 L160.36 530.43 L154.96 530.43 L152.27 532.88" fill="none" stroke="#000" stroke-width="1.50" stroke-linecap="round" stroke-linejoin="round"/>
<path d="M316.97 523.25 L306.59 523.25 L305.75 530.13 L308.56 528.86 L314.16 528.86 L316.97 531.41 L316.97 536.00 L314.16 538.55 L308.56 538.55 L305.75 536.00 M323.13 538.55 L323.13 537.78 M350.16 525.80 L347.35 523.25 L341.74 523.25 L338.94 525.80 L338.94 536.00 L341.74 538.55 L347.35 538.55 L350.16 536.00 L350.16 531.92 L347.35 529.37 L341.74 529.37 L338.94 531.92 M355.53 525.80 L358.34 523.25 L363.94 523.25 L366.75 525.80 L366.75 528.35 L363.94 530.39 L360.58 530.39 M363.94 530.39 L366.75 532.94 L366.75 536.00 L363.94 538.55 L358.34 538.55 L355.53 536.00" fill="none" stroke="#000" stroke-width="1.50" stroke-linecap="round" stroke-linejoin="round"/>
<path d="M487.46 538.55 L487.46 523.25 L479.05 533.45 L490.27 533.45 M495.83 538.55 L495.83 537.78 M511.04 525.80 L513.85 523.25 L519.46 523.25 L522.26 525.80 L522.26 528.35 L519.46 530.90 L513.85 533.45 L511.04 536.00 L511.04 538.55 L522.26 538.55 M538.25 523.25 L527.88 523.25 L527.03 530.13 L529.84 528.86 L535.45 528.86 L538.25 531.41 L538.25 536.00 L535.45 538.55 L529.84 538.55 L527.03 536.00 M545.84 538.55 L543.03 535.49 L543.03 526.31 L545.84 523.25 L551.45 523.25 L554.25 526.31 L554.25 535.49 L551.45 538.55 L545.84 538.55" fill="none" stroke="#000" stroke-width="1.50" stroke-linecap="round" stroke-linejoin="round"/>
<path d="M857.83 527.00 L855.13 524.55 L849.75 524.55 L847.05 527.00 L847.05 536.80 L849.75 539.25 L855.13 539.25 L857.83 536.80 L857.83 532.88 L855.13 530.43 L849.75 530.43 L847.05 532.88 M864.55 539.25 L864.55 538.51 M880.53 536.80 L883.22 539.25 L888.62 539.25 L891.31 536.80 L891.31 527.00 L888.62 524.55 L883.22 524.55 L880.53 527.00 L880.53 530.92 L883.22 533.37 L888.62 533.37 L891.31 530.92 M899.96 539.25 L897.27 536.31 L897.27 527.49 L899.96 524.55 L905.35 524.55 L908.05 527.49 L908.05 536.31 L905.35 539.25 L899.96 539.25" fill="none" stroke="#000" stroke-width="1.50" stroke-linecap="round" stroke-linejoin="round"/>
<path d="M342.85 581.25 L340.25 578.41 L340.25 569.89 L342.85 567.05 L348.06 567.05 L350.66 569.89 L350.66 578.41 L348.06 581.25 L342.85 581.25 M357.33 581.25 L357.33 580.54 M375.29 569.42 L378.67 567.05 L378.67 581.25 M375.29 581.25 L381.53 581.25 M399.70 567.05 L390.07 567.05 L389.29 573.44 L391.89 572.26 L397.10 572.26 L399.70 574.62 L399.70 578.88 L397.10 581.25 L391.89 581.25 L389.29 578.88 M416.05 569.42 L413.45 567.05 L408.24 567.05 L405.64 569.42 L405.64 578.88 L408.24 581.25 L413.45 581.25 L416.05 578.88 L416.05 575.10 L413.45 572.73 L408.24 572.73 L405.64 575.10" fill="none" stroke="#000" stroke-width="1.50" stroke-linecap="round" stroke-linejoin="round"/>
<path d="M962.05 719.30 L964.75 721.75 L970.13 721.75 L972.83 719.30 L972.83 709.50 L970.13 707.05 L964.75 707.05 L962.05 709.50 L962.05 713.42 L964.75 715.87 L970.13 715.87 L972.83 713.42 M979.21 721.75 L976.52 718.81 L976.52 709.99 L979.21 707.05 L984.60 707.05 L987.30 709.99 L987.30 718.81 L984.60 721.75 L979.21 721.75 M994.77 707.05 L993.51 708.27 L993.51 710.24 L994.77 711.46 L996.79 711.46 L998.05 710.24 L998.05 708.27 L996.79 707.05 L994.77 707.05" fill="none" stroke="#000" stroke-width="1.50" stroke-linecap="round" stroke-linejoin="round"/>
<path d="M221.61 1024.75 L221.61 1009.55 L213.25 1019.68 L224.40 1019.68 M228.98 1024.75 L228.98 1023.99 M254.30 1009.55 L243.99 1009.55 L243.15 1016.39 L245.94 1015.12 L251.51 1015.12 L254.30 1017.66 L254.30 1022.22 L251.51 1024.75 L245.94 1024.75 L243.15 1022.22 M260.89 1024.75 L258.10 1021.71 L258.10 1012.59 L260.89 1009.55 L266.46 1009.55 L269.25 1012.59 L269.25 1021.71 L266.46 1024.75 L260.89 1024.75" fill="none" stroke="#000" stroke-width="1.50" stroke-linecap="round" stroke-linejoin="round"/>
<path d="M355.75 1011.00 L358.77 1008.25 L364.82 1008.25 L367.85 1011.00 L367.85 1013.75 L364.82 1016.50 L358.77 1019.25 L355.75 1022.00 L355.75 1024.75 L367.85 1024.75 M372.90 1024.75 L372.90 1023.92 M391.38 1015.95 L388.35 1013.20 L388.35 1011.00 L391.38 1008.25 L397.43 1008.25 L400.45 1011.00 L400.45 1013.20 L397.43 1015.95 L391.38 1015.95 L388.35 1018.70 L388.35 1022.00 L391.38 1024.75 L397.43 1024.75 L400.45 1022.00 L400.45 1018.70 L397.43 1015.95 M407.68 1015.95 L404.65 1013.20 L404.65 1011.00 L407.68 1008.25 L413.73 1008.25 L416.75 1011.00 L416.75 1013.20 L413.73 1015.95 L407.68 1015.95 L404.65 1018.70 L404.65 1022.00 L407.68 1024.75 L413.73 1024.75 L416.75 1022.00 L416.75 1018.70 L413.73 1015.95" fill="none" stroke="#000" stroke-width="1.50" stroke-linecap="round" stroke-linejoin="round"/>
<path d="M889.40 1009.55 L879.09 1009.55 L878.25 1016.39 L881.04 1015.12 L886.61 1015.12 L889.40 1017.66 L889.40 1022.22 L886.61 1024.75 L881.04 1024.75 L878.25 1022.22 M893.63 1024.75 L893.63 1023.99 M918.60 1009.55 L908.29 1009.55 L907.45 1016.39 L910.24 1015.12 L915.81 1015.12 L918.60 1017.66 L918.60 1022.22 L915.81 1024.75 L910.24 1024.75 L907.45 1022.22 M924.56 1012.08 L928.18 1009.55 L928.18 1024.75 M924.56 1024.75 L931.25 1024.75" fill="none" stroke="#000" stroke-width="1.50" stroke-linecap="round" stroke-linejoin="round"/>
<path d="M1044.55 1012.08 L1048.17 1009.55 L1048.17 1024.75 M1044.55 1024.75 L1051.24 1024.75 M1057.16 1024.75 L1057.16 1023.99 M1073.22 1012.08 L1076.85 1009.55 L1076.85 1024.75 M1073.22 1024.75 L1079.91 1024.75 M1087.56 1012.08 L1091.18 1009.55 L1091.18 1024.75 M1087.56 1024.75 L1094.25 1024.75" fill="none" stroke="#000" stroke-width="1.50" stroke-linecap="round" stroke-linejoin="round"/>
<path d="M215.04 1053.75 L205.34 1053.75 L204.55 1060.18 L207.17 1058.99 L212.41 1058.99 L215.04 1061.38 L215.04 1065.67 L212.41 1068.05 L207.17 1068.05 L204.55 1065.67 M220.86 1068.05 L220.86 1067.34 M246.18 1053.75 L236.48 1053.75 L235.69 1060.18 L238.31 1058.99 L243.56 1058.99 L246.18 1061.38 L246.18 1065.67 L243.56 1068.05 L238.31 1068.05 L235.69 1065.67 M253.89 1068.05 L251.26 1065.19 L251.26 1056.61 L253.89 1053.75 L259.13 1053.75 L261.75 1056.61 L261.75 1065.19 L259.13 1068.05 L253.89 1068.05" fill="none" stroke="#000" stroke-width="1.50" stroke-linecap="round" stroke-linejoin="round"/>
<path d="M955.75 1052.75 L966.97 1052.75 L959.96 1068.05 M971.06 1068.05 L971.06 1067.28 M996.02 1052.75 L985.64 1052.75 L984.80 1059.63 L987.61 1058.36 L993.22 1058.36 L996.02 1060.91 L996.02 1065.50 L993.22 1068.05 L987.61 1068.05 L984.80 1065.50 M1002.13 1068.05 L999.33 1064.99 L999.33 1055.81 L1002.13 1052.75 L1007.75 1052.75 L1010.55 1055.81 L1010.55 1064.99 L1007.75 1068.05 L1002.13 1068.05" fill="none" stroke="#000" stroke-width="1.50" stroke-linecap="round" stroke-linejoin="round"/>
<path d="M214.45 1099.30 L211.98 1097.05 L207.03 1097.05 L204.55 1099.30 L204.55 1108.30 L207.03 1110.55 L211.98 1110.55 L214.45 1108.30 L214.45 1104.70 L211.98 1102.45 L207.03 1102.45 L204.55 1104.70 M221.01 1110.55 L221.01 1109.88 M245.98 1099.30 L243.51 1097.05 L238.56 1097.05 L236.08 1099.30 L236.08 1108.30 L238.56 1110.55 L243.51 1110.55 L245.98 1108.30 L245.98 1104.70 L243.51 1102.45 L238.56 1102.45 L236.08 1104.70 M254.32 1103.35 L251.85 1101.10 L251.85 1099.30 L254.32 1097.05 L259.27 1097.05 L261.75 1099.30 L261.75 1101.10 L259.27 1103.35 L254.32 1103.35 L251.85 1105.60 L251.85 1108.30 L254.32 1110.55 L259.27 1110.55 L261.75 1108.30 L261.75 1105.60 L259.27 1103.35" fill="none" stroke="#000" stroke-width="1.50" stroke-linecap="round" stroke-linejoin="round"/>
<path d="M958.46 1102.66 L955.75 1100.19 L955.75 1098.22 L958.46 1095.75 L963.89 1095.75 L966.60 1098.22 L966.60 1100.19 L963.89 1102.66 L958.46 1102.66 L955.75 1105.12 L955.75 1108.08 L958.46 1110.55 L963.89 1110.55 L966.60 1108.08 L966.60 1105.12 L963.89 1102.66 M971.16 1110.55 L971.16 1109.81 M995.90 1098.22 L993.19 1095.75 L987.76 1095.75 L985.05 1098.22 L985.05 1108.08 L987.76 1110.55 L993.19 1110.55 L995.90 1108.08 L995.90 1104.14 L993.19 1101.67 L987.76 1101.67 L985.05 1104.14 M1010.55 1098.22 L1007.84 1095.75 L1002.41 1095.75 L999.70 1098.22 L999.70 1108.08 L1002.41 1110.55 L1007.84 1110.55 L1010.55 1108.08 L1010.55 1104.14 L1007.84 1101.67 L1002.41 1101.67 L999.70 1104.14" fill="none" stroke="#000" stroke-width="1.50" stroke-linecap="round" stroke-linejoin="round"/>
<path d="M508.07 1111.75 L505.75 1109.50 L505.75 1103.65 L508.07 1101.40 L512.70 1101.40 L515.02 1103.65 L515.02 1109.50 L512.70 1111.75 L508.07 1111.75 M505.75 1112.65 L515.02 1100.05 M523.08 1100.50 L526.30 1098.25 L526.30 1111.75 M523.08 1111.75 L529.02 1111.75 M536.65 1111.75 L536.65 1111.08 M553.28 1100.50 L556.50 1098.25 L556.50 1111.75 M553.28 1111.75 L559.23 1111.75 M568.63 1111.75 L566.16 1109.05 L566.16 1100.95 L568.63 1098.25 L573.59 1098.25 L576.06 1100.95 L576.06 1109.05 L573.59 1111.75 L568.63 1111.75 M584.97 1098.25 L583.81 1101.40 M588.45 1098.25 L587.29 1101.40 M605.63 1100.50 L603.32 1098.25 L598.68 1098.25 L596.37 1100.50 L596.37 1109.50 L598.68 1111.75 L603.32 1111.75 L605.63 1109.50 M612.39 1111.75 L612.39 1098.25 L619.81 1098.25 L619.81 1111.75 L612.39 1111.75 M626.57 1111.75 L626.57 1098.25 L635.84 1111.75 L635.84 1098.25 M641.67 1111.75 L641.67 1098.25 L648.62 1098.25 L650.94 1100.50 L650.94 1109.50 L648.62 1111.75 L641.67 1111.75 M656.77 1098.25 L656.77 1109.50 L659.09 1111.75 L663.73 1111.75 L666.05 1109.50 L666.05 1098.25 M674.19 1098.25 L678.83 1098.25 M676.51 1098.25 L676.51 1111.75 M674.19 1111.75 L678.83 1111.75 M686.98 1098.25 L696.25 1098.25 M691.62 1098.25 L691.62 1111.75" fill="none" stroke="#000" stroke-width="1.50" stroke-linecap="round" stroke-linejoin="round"/>
<path d="M145.95 1174.75 L145.95 1160.75 L138.25 1170.08 L148.52 1170.08 M154.33 1167.75 L162.02 1167.75 M170.88 1174.75 L168.48 1172.42 L168.48 1166.35 L170.88 1164.02 L175.69 1164.02 L178.09 1166.35 L178.09 1172.42 L175.69 1174.75 L170.88 1174.75 M168.48 1175.68 L178.09 1162.62 M186.16 1174.75 L183.60 1171.95 L183.60 1163.55 L186.16 1160.75 L191.30 1160.75 L193.86 1163.55 L193.86 1171.95 L191.30 1174.75 L186.16 1174.75 M199.43 1174.75 L199.43 1174.05 M221.53 1174.75 L221.53 1160.75 L213.83 1170.08 L224.09 1170.08 M231.25 1163.08 L234.59 1160.75 L234.59 1174.75 M231.25 1174.75 L237.41 1174.75 M259.17 1174.75 L259.17 1160.75 M268.79 1174.75 L268.79 1160.75 M259.17 1167.75 L268.79 1167.75 M276.69 1174.75 L274.29 1172.42 L274.29 1167.75 L276.69 1165.42 L281.50 1165.42 L283.90 1167.75 L283.90 1172.42 L281.50 1174.75 L276.69 1174.75 M293.01 1160.75 L293.01 1172.88 L294.93 1174.75 M304.52 1170.08 L314.13 1170.08 L314.13 1167.75 L311.73 1165.42 L306.92 1165.42 L304.52 1167.75 L304.52 1172.42 L306.92 1174.75 L311.73 1174.75 L314.13 1172.88 M329.25 1167.28 L326.85 1165.42 L322.04 1165.42 L319.64 1167.28 L319.64 1168.22 L322.04 1170.08 L326.85 1170.08 L329.25 1171.95 L329.25 1172.88 L326.85 1174.75 L322.04 1174.75 L319.64 1172.88" fill="none" stroke="#000" stroke-width="1.50" stroke-linecap="round" stroke-linejoin="round"/>
<path d="M170.17 1184.62 L168.01 1186.72 L167.05 1190.68 L168.01 1194.65 L170.17 1196.75 M181.87 1185.08 L185.21 1182.75 L185.21 1196.75 M181.87 1196.75 L188.03 1196.75 M197.77 1189.28 L195.20 1186.95 L195.20 1185.08 L197.77 1182.75 L202.90 1182.75 L205.47 1185.08 L205.47 1186.95 L202.90 1189.28 L197.77 1189.28 L195.20 1191.62 L195.20 1194.42 L197.77 1196.75 L202.90 1196.75 L205.47 1194.42 L205.47 1191.62 L202.90 1189.28 M210.84 1185.08 L213.41 1182.75 L218.54 1182.75 L221.11 1185.08 L221.11 1187.42 L218.54 1189.75 L213.41 1192.08 L210.84 1194.42 L210.84 1196.75 L221.11 1196.75 M236.10 1182.75 L236.10 1194.42 L233.69 1196.75 L228.89 1196.75 L226.48 1194.42 M242.12 1196.75 L242.12 1182.75 L246.93 1190.92 L251.74 1182.75 L251.74 1196.75 M261.13 1184.62 L263.29 1186.72 L264.25 1190.68 L263.29 1194.65 L261.13 1196.75" fill="none" stroke="#000" stroke-width="1.50" stroke-linecap="round" stroke-linejoin="round"/>
<path d="M75.51 1238.55 L75.51 1226.25 L68.75 1234.45 L77.77 1234.45 M84.77 1232.40 L91.52 1232.40 M101.20 1238.55 L99.09 1236.50 L99.09 1231.17 L101.20 1229.12 L105.43 1229.12 L107.54 1231.17 L107.54 1236.50 L105.43 1238.55 L101.20 1238.55 M99.09 1239.37 L107.54 1227.89 M116.52 1238.55 L114.26 1236.09 L114.26 1228.71 L116.52 1226.25 L121.03 1226.25 L123.28 1228.71 L123.28 1236.09 L121.03 1238.55 L116.52 1238.55 M130.07 1238.55 L130.07 1237.93 M151.37 1238.55 L151.37 1226.25 L144.61 1234.45 L153.63 1234.45 M161.81 1228.30 L164.74 1226.25 L164.74 1238.55 M161.81 1238.55 L167.22 1238.55 M190.12 1238.55 L190.12 1226.25 M198.57 1238.55 L198.57 1226.25 M190.12 1232.40 L198.57 1232.40 M207.40 1238.55 L205.29 1236.50 L205.29 1232.40 L207.40 1230.35 L211.62 1230.35 L213.74 1232.40 L213.74 1236.50 L211.62 1238.55 L207.40 1238.55 M223.63 1226.25 L223.63 1236.91 L225.32 1238.55 M235.63 1234.45 L244.08 1234.45 L244.08 1232.40 L241.97 1230.35 L237.74 1230.35 L235.63 1232.40 L235.63 1236.50 L237.74 1238.55 L241.97 1238.55 L244.08 1236.91 M259.25 1231.99 L257.14 1230.35 L252.92 1230.35 L250.80 1231.99 L250.80 1232.81 L252.92 1234.45 L257.14 1234.45 L259.25 1236.09 L259.25 1236.91 L257.14 1238.55 L252.92 1238.55 L250.80 1236.91" fill="none" stroke="#000" stroke-width="1.50" stroke-linecap="round" stroke-linejoin="round"/>
<path d="M101.03 1249.01 L98.76 1251.21 L97.75 1255.38 L98.76 1259.55 L101.03 1261.75 M112.61 1249.50 L116.11 1247.05 L116.11 1261.75 M112.61 1261.75 L119.07 1261.75 M128.59 1253.91 L125.89 1251.46 L125.89 1249.50 L128.59 1247.05 L133.98 1247.05 L136.67 1249.50 L136.67 1251.46 L133.98 1253.91 L128.59 1253.91 L125.89 1256.36 L125.89 1259.30 L128.59 1261.75 L133.98 1261.75 L136.67 1259.30 L136.67 1256.36 L133.98 1253.91 M149.69 1261.75 L149.69 1247.05 L141.60 1256.85 L152.38 1256.85 M167.41 1247.05 L167.41 1259.30 L164.88 1261.75 L159.84 1261.75 L157.31 1259.30 M173.03 1261.75 L173.03 1247.05 L178.07 1255.62 L183.12 1247.05 L183.12 1261.75 M192.27 1249.01 L194.54 1251.21 L195.55 1255.38 L194.54 1259.55 L192.27 1261.75" fill="none" stroke="#000" stroke-width="1.50" stroke-linecap="round" stroke-linejoin="round"/>
<path d="M755.75 1235.17 L758.41 1232.75 L763.73 1232.75 L766.38 1235.17 L766.38 1237.58 L763.73 1239.52 L760.53 1239.52 M763.73 1239.52 L766.38 1241.93 L766.38 1244.83 L763.73 1247.25 L758.41 1247.25 L755.75 1244.83 M772.44 1247.25 L781.40 1232.75 M790.80 1239.52 L788.14 1237.10 L788.14 1235.17 L790.80 1232.75 L796.12 1232.75 L798.77 1235.17 L798.77 1237.10 L796.12 1239.52 L790.80 1239.52 L788.14 1241.93 L788.14 1244.83 L790.80 1247.25 L796.12 1247.25 L798.77 1244.83 L798.77 1241.93 L796.12 1239.52 M808.32 1232.75 L807.08 1236.13 M812.05 1232.75 L810.81 1236.13 M821.53 1240.00 L829.49 1240.00 M839.12 1235.17 L842.58 1232.75 L842.58 1247.25 M839.12 1247.25 L845.50 1247.25 M863.56 1235.17 L860.90 1232.75 L855.58 1232.75 L852.92 1235.17 L852.92 1244.83 L855.58 1247.25 L860.90 1247.25 L863.56 1244.83 L863.56 1240.97 L860.90 1238.55 L855.58 1238.55 L852.92 1240.97 M869.12 1232.75 L869.12 1244.83 L871.61 1247.25 L876.59 1247.25 L879.08 1244.83 L879.08 1232.75 M885.32 1247.25 L885.32 1232.75 L895.27 1247.25 L895.27 1232.75 M911.47 1235.17 L908.98 1232.75 L904.00 1232.75 L901.51 1235.17 L901.51 1244.83 L904.00 1247.25 L908.98 1247.25 L911.47 1244.83 M933.90 1232.75 L943.86 1232.75 M938.88 1232.75 L938.88 1247.25 M960.05 1237.58 L960.05 1247.25 M960.05 1240.00 L957.57 1237.58 L952.59 1237.58 L950.10 1240.00 L950.10 1244.83 L952.59 1247.25 L957.57 1247.25 L960.05 1244.83 M966.29 1237.58 L966.29 1252.08 M966.29 1240.00 L968.78 1237.58 L973.76 1237.58 L976.25 1240.00 L976.25 1244.83 L973.76 1247.25 L968.78 1247.25 L966.29 1244.83" fill="none" stroke="#000" stroke-width="1.50" stroke-linecap="round" stroke-linejoin="round"/>
<path d="M757.05 1271.75 L757.05 1257.05 L764.62 1257.05 L767.14 1259.50 L767.14 1269.30 L764.62 1271.75 L757.05 1271.75 M773.04 1266.85 L783.14 1266.85 L783.14 1264.40 L780.61 1261.95 L775.56 1261.95 L773.04 1264.40 L773.04 1269.30 L775.56 1271.75 L780.61 1271.75 L783.14 1269.79 M789.03 1261.95 L789.03 1276.65 M789.03 1264.40 L791.56 1261.95 L796.60 1261.95 L799.13 1264.40 L799.13 1269.30 L796.60 1271.75 L791.56 1271.75 L789.03 1269.30 M808.81 1257.05 L808.81 1269.30 L811.33 1271.75 L813.86 1271.75 M805.78 1261.95 L813.35 1261.95 M821.01 1257.05 L821.01 1271.75 M821.01 1264.40 L823.54 1261.95 L828.58 1261.95 L831.11 1264.40 L831.11 1271.75 M855.69 1271.75 L853.00 1268.81 L853.00 1259.99 L855.69 1257.05 L861.08 1257.05 L863.78 1259.99 L863.78 1268.81 L861.08 1271.75 L855.69 1271.75 M869.74 1271.75 L869.74 1271.02 M884.98 1257.05 L895.76 1257.05 L889.02 1271.75 M911.75 1257.05 L901.78 1257.05 L900.97 1263.66 L903.66 1262.44 L909.05 1262.44 L911.75 1264.89 L911.75 1269.30 L909.05 1271.75 L903.66 1271.75 L900.97 1269.30" fill="none" stroke="#000" stroke-width="1.50" stroke-linecap="round" stroke-linejoin="round"/>
<path d="M656.47 558.95 L653.75 555.07 L670.05 555.07 M670.05 558.95 L670.05 551.78 M670.05 545.52 L669.23 545.52 M656.47 531.09 L653.75 528.10 L653.75 522.12 L656.47 519.13 L659.18 519.13 L661.36 522.12 L661.36 525.71 M661.36 522.12 L664.07 519.13 L667.33 519.13 L670.05 522.12 L670.05 528.10 L667.33 531.09 M656.47 513.12 L653.75 509.24 L670.05 509.24 M670.05 513.12 L670.05 505.95" fill="none" stroke="#000" stroke-width="1.50" stroke-linecap="round" stroke-linejoin="round"/>
<path d="M660.68 819.93 L657.85 823.05 L655.58 823.05 L652.75 819.93 L652.75 813.70 L655.58 810.58 L657.85 810.58 L660.68 813.70 L660.68 819.93 L663.52 823.05 L666.92 823.05 L669.75 819.93 L669.75 813.70 L666.92 810.58 L663.52 810.58 L660.68 813.70 M669.75 806.23 L668.90 806.23 M666.92 791.16 L669.75 788.04 L669.75 781.81 L666.92 778.69 L655.58 778.69 L652.75 781.81 L652.75 788.04 L655.58 791.16 L660.12 791.16 L662.95 788.04 L662.95 781.81 L660.12 778.69 M666.92 775.22 L669.75 772.10 L669.75 765.87 L666.92 762.75 L655.58 762.75 L652.75 765.87 L652.75 772.10 L655.58 775.22 L660.12 775.22 L662.95 772.10 L662.95 765.87 L660.12 762.75" fill="none" stroke="#000" stroke-width="1.50" stroke-linecap="round" stroke-linejoin="round"/>
<path d="M628.05 833.01 L625.58 835.55 L619.17 835.55 L616.70 833.01 L616.70 827.93 L619.17 825.39 L625.58 825.39 L628.05 827.93 L628.05 833.01 M629.04 835.55 L615.22 825.39 M615.72 808.56 L613.25 811.27 L613.25 816.70 L615.72 819.41 L625.58 819.41 L628.05 816.70 L628.05 811.27 L625.58 808.56 L621.64 808.56 L619.17 811.27 L619.17 816.70 L621.64 819.41 M628.05 802.51 L627.31 802.51 M615.72 776.29 L613.25 779.00 L613.25 784.43 L615.72 787.14 L625.58 787.14 L628.05 784.43 L628.05 779.00 L625.58 776.29 L621.64 776.29 L619.17 779.00 L619.17 784.43 L621.64 787.14 M615.72 768.56 L613.25 765.03 L628.05 765.03 M628.05 768.56 L628.05 762.05" fill="none" stroke="#000" stroke-width="1.50" stroke-linecap="round" stroke-linejoin="round"/>
<path d="M501.65 690.64 L499.02 693.35 L492.17 693.35 L489.54 690.64 L489.54 685.21 L492.17 682.50 L499.02 682.50 L501.65 685.21 L501.65 690.64 M502.70 693.35 L487.96 682.50 M501.65 668.33 L485.85 668.33 L496.38 677.02 L496.38 665.44 M501.65 659.88 L500.86 659.88 M485.85 632.78 L485.85 643.50 L492.96 644.37 L491.64 641.47 L491.64 635.68 L494.28 632.78 L499.02 632.78 L501.65 635.68 L501.65 641.47 L499.02 644.37 M501.65 625.14 L498.49 628.04 L489.01 628.04 L485.85 625.14 L485.85 619.35 L489.01 616.45 L498.49 616.45 L501.65 619.35 L501.65 625.14" fill="none" stroke="#000" stroke-width="1.50" stroke-linecap="round" stroke-linejoin="round"/>
<path d="M488.87 610.04 L485.73 610.04 M487.30 611.65 L487.30 608.42 M489.65 603.84 L488.71 604.70 L485.89 604.70 L484.95 603.84 L484.95 602.11 L485.89 601.25 L488.71 601.25 L489.65 602.11 L489.65 603.84" fill="none" stroke="#000" stroke-width="1.50" stroke-linecap="round" stroke-linejoin="round"/>
<path d="M500.05 611.65 L500.05 607.69 M503.65 602.92 L502.21 604.24 L497.89 604.24 L496.45 602.92 L496.45 600.28 L497.89 598.96 L502.21 598.96 L503.65 600.28 L503.65 602.92 M503.65 595.97 L503.29 595.97 M503.65 587.12 L502.21 588.44 L497.89 588.44 L496.45 587.12 L496.45 584.48 L497.89 583.16 L502.21 583.16 L503.65 584.48 L503.65 587.12 M503.65 579.21 L502.21 580.53 L497.89 580.53 L496.45 579.21 L496.45 576.57 L497.89 575.25 L502.21 575.25 L503.65 576.57 L503.65 579.21 M497.65 572.63 L496.45 571.31 L496.45 568.67 L497.65 567.35 L498.85 567.35 L499.81 568.67 L499.81 570.25 M499.81 568.67 L501.01 567.35 L502.45 567.35 L503.65 568.67 L503.65 571.31 L502.45 572.63" fill="none" stroke="#000" stroke-width="1.50" stroke-linecap="round" stroke-linejoin="round"/>
<path d="M710.25 917.90 L695.25 917.90 L705.25 926.15 L705.25 915.15 M710.25 911.41 L709.50 911.41 M695.25 887.22 L695.25 897.39 L702.00 898.22 L700.75 895.47 L700.75 889.97 L703.25 887.22 L707.75 887.22 L710.25 889.97 L710.25 895.47 L707.75 898.22 M710.25 881.50 L707.25 884.25 L698.25 884.25 L695.25 881.50 L695.25 876.00 L698.25 873.25 L707.25 873.25 L710.25 876.00 L710.25 881.50" fill="none" stroke="#000" stroke-width="1.50" stroke-linecap="round" stroke-linejoin="round"/>
<path d="M698.58 863.86 L695.12 863.86 M696.85 865.65 L696.85 862.08 M699.45 856.41 L698.41 857.36 L695.29 857.36 L694.25 856.41 L694.25 854.50 L695.29 853.55 L698.41 853.55 L699.45 854.50 L699.45 856.41" fill="none" stroke="#000" stroke-width="1.50" stroke-linecap="round" stroke-linejoin="round"/>
<path d="M708.65 865.65 L708.65 860.82 M713.05 857.33 L711.29 858.94 L706.01 858.94 L704.25 857.33 L704.25 854.10 L706.01 852.49 L711.29 852.49 L713.05 854.10 L713.05 857.33 M713.05 851.18 L712.61 851.18 M713.05 842.70 L711.29 844.32 L706.01 844.32 L704.25 842.70 L704.25 839.48 L706.01 837.86 L711.29 837.86 L713.05 839.48 L713.05 842.70 M705.72 830.55 L704.25 832.16 L704.25 835.39 L705.72 837.00 L711.58 837.00 L713.05 835.39 L713.05 832.16 L711.58 830.55 L709.24 830.55 L707.77 832.16 L707.77 835.39 L709.24 837.00" fill="none" stroke="#000" stroke-width="1.50" stroke-linecap="round" stroke-linejoin="round"/>
<path d="M736.32 931.85 L733.75 929.03 L733.75 923.38 L736.32 920.56 L738.88 920.56 L741.45 923.38 L744.02 929.03 L746.58 931.85 L749.15 931.85 L749.15 920.56 M749.15 916.39 L748.38 916.39 M733.75 902.51 L733.75 891.22 L749.15 898.28 M733.75 887.84 L733.75 876.55 L749.15 883.61" fill="none" stroke="#000" stroke-width="1.50" stroke-linecap="round" stroke-linejoin="round"/>
<path d="M803.05 929.04 L800.09 931.75 L791.21 931.75 L788.25 929.04 L788.25 923.61 L791.21 920.90 L800.09 920.90 L803.05 923.61 L803.05 929.04 M803.05 915.54 L802.31 915.54 M790.72 898.41 L788.25 894.88 L803.05 894.88 M803.05 898.41 L803.05 891.90 M790.72 874.55 L788.25 877.26 L788.25 882.69 L790.72 885.40 L800.58 885.40 L803.05 882.69 L803.05 877.26 L800.58 874.55 L796.64 874.55 L794.17 877.26 L794.17 882.69 L796.64 885.40" fill="none" stroke="#000" stroke-width="1.50" stroke-linecap="round" stroke-linejoin="round"/>
<path d="M493.25 1305.09 L476.95 1305.09 L487.82 1314.05 L487.82 1302.10 M493.25 1297.03 L492.44 1297.03 M476.95 1269.73 L476.95 1280.79 L484.28 1281.69 L482.93 1278.70 L482.93 1272.72 L485.64 1269.73 L490.53 1269.73 L493.25 1272.72 L493.25 1278.70 L490.53 1281.69 M493.25 1262.51 L489.99 1265.50 L480.21 1265.50 L476.95 1262.51 L476.95 1256.54 L480.21 1253.55 L489.99 1253.55 L493.25 1256.54 L493.25 1262.51" fill="none" stroke="#000" stroke-width="1.50" stroke-linecap="round" stroke-linejoin="round"/>
<path d="M482.13 1244.26 L478.47 1244.26 M480.30 1246.15 L480.30 1242.37 M483.05 1237.98 L481.95 1238.98 L478.65 1238.98 L477.55 1237.98 L477.55 1235.96 L478.65 1234.95 L481.95 1234.95 L483.05 1235.96 L483.05 1237.98" fill="none" stroke="#000" stroke-width="1.50" stroke-linecap="round" stroke-linejoin="round"/>
<path d="M492.30 1246.95 L492.30 1242.17 M496.65 1238.11 L494.91 1239.70 L489.69 1239.70 L487.95 1238.11 L487.95 1234.92 L489.69 1233.32 L494.91 1233.32 L496.65 1234.92 L496.65 1238.11 M496.65 1231.41 L496.21 1231.41 M496.65 1222.42 L494.91 1224.02 L489.69 1224.02 L487.95 1222.42 L487.95 1219.23 L489.69 1217.64 L494.91 1217.64 L496.65 1219.23 L496.65 1222.42 M496.65 1214.58 L494.91 1216.17 L489.69 1216.17 L487.95 1214.58 L487.95 1211.39 L489.69 1209.79 L494.91 1209.79 L496.65 1211.39 L496.65 1214.58 M489.40 1208.33 L487.95 1206.74 L487.95 1203.55 L489.40 1201.95 L490.85 1201.95 L492.30 1203.55 L493.75 1206.74 L495.20 1208.33 L496.65 1208.33 L496.65 1201.95" fill="none" stroke="#000" stroke-width="1.50" stroke-linecap="round" stroke-linejoin="round"/>
<path d="M549.95 1274.76 L546.69 1277.75 L536.91 1277.75 L533.65 1274.76 L533.65 1268.78 L536.91 1265.80 L546.69 1265.80 L549.95 1268.78 L549.95 1274.76" fill="none" stroke="#000" stroke-width="1.50" stroke-linecap="round" stroke-linejoin="round"/>
<path d="M538.67 1256.41 L533.93 1256.41 M536.30 1258.85 L536.30 1253.97 M539.85 1250.65 L538.43 1251.96 L534.17 1251.96 L532.75 1250.65 L532.75 1248.05 L534.17 1246.75 L538.43 1246.75 L539.85 1248.05 L539.85 1250.65" fill="none" stroke="#000" stroke-width="1.50" stroke-linecap="round" stroke-linejoin="round"/>
<path d="M547.75 1258.85 L547.75 1254.57 M551.65 1250.04 L550.09 1251.47 L545.41 1251.47 L543.85 1250.04 L543.85 1247.18 L545.41 1245.75 L550.09 1245.75 L551.65 1247.18 L551.65 1250.04 M551.65 1243.15 L551.26 1243.15 M551.65 1234.20 L550.09 1235.63 L545.41 1235.63 L543.85 1234.20 L543.85 1231.34 L545.41 1229.91 L550.09 1229.91 L551.65 1231.34 L551.65 1234.20 M551.65 1226.28 L550.09 1227.71 L545.41 1227.71 L543.85 1226.28 L543.85 1223.42 L545.41 1221.99 L550.09 1221.99 L551.65 1223.42 L551.65 1226.28 M551.65 1218.36 L550.09 1219.79 L545.41 1219.79 L543.85 1218.36 L543.85 1215.50 L545.41 1214.07 L550.09 1214.07 L551.65 1215.50 L551.65 1218.36 M543.85 1206.15 L543.85 1211.44 L547.36 1211.87 L546.71 1210.44 L546.71 1207.58 L548.01 1206.15 L550.35 1206.15 L551.65 1207.58 L551.65 1210.44 L550.35 1211.87" fill="none" stroke="#000" stroke-width="1.50" stroke-linecap="round" stroke-linejoin="round"/>
<path d="M1039.69 639.55 L1036.08 641.16 L1029.44 638.52 L1027.93 634.87 L1030.03 629.61 L1033.63 627.99 L1040.27 630.64 L1041.78 634.28 L1039.69 639.55 M1039.66 642.59 L1029.54 626.37 M1033.80 609.71 L1029.66 620.11 L1036.23 623.70 L1036.07 620.38 L1038.30 614.76 L1041.98 612.96 L1046.58 614.79 L1048.01 618.62 L1045.78 624.24 L1042.10 626.04 M1050.99 611.14 L1050.23 610.83 M1049.64 590.74 L1045.97 592.53 L1043.92 591.72 L1042.49 587.89 L1044.72 582.27 L1048.40 580.47 L1050.44 581.29 L1051.88 585.12 L1049.64 590.74 L1051.08 594.56 L1054.14 595.78 L1057.82 593.99 L1060.05 588.37 L1058.62 584.54 L1055.55 583.32 L1051.88 585.12 M1047.39 575.57 L1051.86 564.33 L1064.39 577.46 M1057.88 549.20 L1053.74 559.60 L1060.30 563.19 L1060.15 559.87 L1062.38 554.25 L1066.06 552.46 L1070.66 554.29 L1072.09 558.12 L1069.86 563.74 L1066.18 565.53" fill="none" stroke="#000" stroke-width="1.50" stroke-linecap="round" stroke-linejoin="round"/>
<line x1="37.30" y1="492.50" x2="37.30" y2="743.00" stroke="#000" stroke-width="1.30"/>
<line x1="37.30" y1="499.45" x2="595.00" y2="499.45" stroke="#000" stroke-width="1.30"/>
<line x1="595.00" y1="492.80" x2="595.00" y2="808.20" stroke="#000" stroke-width="1.30"/>
<line x1="37.30" y1="542.50" x2="595.00" y2="542.50" stroke="#000" stroke-width="1.30"/>
<line x1="233.40" y1="534.50" x2="233.40" y2="580.00" stroke="#000" stroke-width="1.30"/>
<line x1="439.30" y1="534.50" x2="439.30" y2="1031.30" stroke="#000" stroke-width="1.30"/>
<line x1="337.50" y1="585.60" x2="453.90" y2="585.60" stroke="#000" stroke-width="1.30"/>
<line x1="445.00" y1="581.00" x2="445.00" y2="740.00" stroke="#000" stroke-width="1.30"/>
<line x1="507.70" y1="572.60" x2="507.70" y2="873.80" stroke="#000" stroke-width="1.30"/>
<line x1="440.00" y1="709.40" x2="511.00" y2="709.40" stroke="#000" stroke-width="1.30"/>
<line x1="439.30" y1="873.80" x2="511.30" y2="873.80" stroke="#000" stroke-width="1.30"/>
<line x1="433.80" y1="670.70" x2="467.50" y2="670.70" stroke="#000" stroke-width="1.30"/>
<line x1="515.00" y1="670.70" x2="638.30" y2="670.70" stroke="#000" stroke-width="1.30"/>
<line x1="442.60" y1="913.00" x2="638.30" y2="913.00" stroke="#000" stroke-width="1.30"/>
<line x1="631.10" y1="670.70" x2="631.10" y2="913.00" stroke="#000" stroke-width="1.30"/>
<line x1="672.20" y1="500.00" x2="672.20" y2="956.30" stroke="#000" stroke-width="1.30"/>
<line x1="670.00" y1="580.50" x2="985.00" y2="580.50" stroke="#000" stroke-width="1.30"/>
<line x1="670.00" y1="627.30" x2="963.80" y2="627.30" stroke="#000" stroke-width="1.30"/>
<line x1="730.80" y1="492.50" x2="730.80" y2="857.50" stroke="#000" stroke-width="1.30"/>
<line x1="730.80" y1="499.45" x2="1126.30" y2="499.45" stroke="#000" stroke-width="1.30"/>
<line x1="1126.30" y1="491.30" x2="1126.30" y2="792.00" stroke="#000" stroke-width="1.30"/>
<line x1="730.80" y1="542.50" x2="983.30" y2="542.50" stroke="#000" stroke-width="1.30"/>
<line x1="983.40" y1="534.50" x2="983.40" y2="580.00" stroke="#000" stroke-width="1.30"/>
<line x1="710.00" y1="791.80" x2="716.20" y2="791.80" stroke="#000" stroke-width="1.30"/>
<line x1="716.20" y1="791.80" x2="716.20" y2="956.30" stroke="#000" stroke-width="1.30"/>
<line x1="752.20" y1="855.00" x2="752.20" y2="956.30" stroke="#000" stroke-width="1.30"/>
<line x1="806.90" y1="873.90" x2="806.90" y2="965.40" stroke="#000" stroke-width="1.30"/>
<line x1="803.80" y1="950.90" x2="815.30" y2="950.90" stroke="#000" stroke-width="1.30"/>
<line x1="671.30" y1="956.30" x2="820.60" y2="956.30" stroke="#000" stroke-width="1.90"/>
<line x1="746.30" y1="424.30" x2="1093.30" y2="424.30" stroke="#000" stroke-width="1.30"/>
<line x1="746.30" y1="424.30" x2="907.50" y2="715.00" stroke="#000" stroke-width="1.30"/>
<line x1="498.80" y1="1121.30" x2="746.30" y2="1121.30" stroke="#000" stroke-width="1.30"/>
<line x1="746.30" y1="1121.30" x2="781.50" y2="857.50" stroke="#000" stroke-width="1.30"/>
<line x1="782.00" y1="832.00" x2="782.00" y2="960.00" stroke="#000" stroke-width="1.30" stroke-dasharray="14 3 2 3"/>
<line x1="782.00" y1="960.00" x2="782.00" y2="1036.30" stroke="#000" stroke-width="1.30"/>
<line x1="782.00" y1="1028.00" x2="983.30" y2="1028.00" stroke="#000" stroke-width="1.30"/>
<line x1="983.40" y1="950.00" x2="983.40" y2="1035.00" stroke="#000" stroke-width="1.30"/>
<line x1="1041.30" y1="1027.50" x2="1141.30" y2="1027.50" stroke="#000" stroke-width="1.30"/>
<line x1="1100.50" y1="957.00" x2="1100.50" y2="1035.00" stroke="#000" stroke-width="1.30"/>
<line x1="845.80" y1="935.00" x2="845.80" y2="975.00" stroke="#000" stroke-width="1.30" stroke-dasharray="14 3 2 3"/>
<line x1="846.30" y1="975.00" x2="846.30" y2="1078.80" stroke="#000" stroke-width="1.30"/>
<line x1="1119.80" y1="935.00" x2="1119.80" y2="975.00" stroke="#000" stroke-width="1.30" stroke-dasharray="14 3 2 3"/>
<line x1="1119.50" y1="975.00" x2="1119.50" y2="1078.80" stroke="#000" stroke-width="1.30"/>
<line x1="846.30" y1="1071.30" x2="1119.50" y2="1071.30" stroke="#000" stroke-width="1.30"/>
<line x1="824.50" y1="957.00" x2="824.50" y2="1121.30" stroke="#000" stroke-width="1.30"/>
<line x1="1140.80" y1="947.00" x2="1140.80" y2="1121.30" stroke="#000" stroke-width="1.30"/>
<line x1="824.50" y1="1115.00" x2="1141.30" y2="1115.00" stroke="#000" stroke-width="1.30"/>
<line x1="169.30" y1="967.50" x2="169.30" y2="1035.00" stroke="#000" stroke-width="1.30"/>
<line x1="169.30" y1="1027.50" x2="439.30" y2="1027.50" stroke="#000" stroke-width="1.30"/>
<line x1="333.80" y1="960.00" x2="333.80" y2="1078.80" stroke="#000" stroke-width="1.30"/>
<line x1="355.30" y1="957.00" x2="355.30" y2="1121.30" stroke="#000" stroke-width="1.30"/>
<line x1="132.40" y1="960.00" x2="132.40" y2="1078.80" stroke="#000" stroke-width="1.30"/>
<line x1="132.40" y1="1071.30" x2="333.80" y2="1071.30" stroke="#000" stroke-width="1.30"/>
<line x1="111.30" y1="957.00" x2="111.30" y2="1121.30" stroke="#000" stroke-width="1.30"/>
<line x1="111.30" y1="1115.00" x2="355.30" y2="1115.00" stroke="#000" stroke-width="1.30"/>
<line x1="168.80" y1="955.00" x2="124.50" y2="1180.80" stroke="#000" stroke-width="1.30"/>
<line x1="124.50" y1="1180.80" x2="370.80" y2="1180.80" stroke="#000" stroke-width="1.30"/>
<line x1="132.40" y1="955.00" x2="47.50" y2="1243.30" stroke="#000" stroke-width="1.30"/>
<line x1="47.50" y1="1243.30" x2="325.50" y2="1243.30" stroke="#000" stroke-width="1.30"/>
<path d="M423.7 1218.1 L423.7 1282 M423.7 1240.1 L432.5 1240.1 Q435.6 1240.1 435.6 1243.5 L435.6 1282" fill="none" stroke="#000" stroke-width="1.30"/>
<line x1="500.30" y1="1207.10" x2="500.30" y2="1282.00" stroke="#000" stroke-width="1.30"/>
<line x1="555.00" y1="1212.20" x2="555.00" y2="1282.00" stroke="#000" stroke-width="1.30"/>
<line x1="748.80" y1="1253.80" x2="1028.80" y2="1253.80" stroke="#000" stroke-width="1.30"/>
<line x1="1028.80" y1="1253.80" x2="1015.50" y2="1285.00" stroke="#000" stroke-width="1.30"/>
<line x1="27.00" y1="791.75" x2="605.00" y2="791.75" stroke="#000" stroke-width="1.30" stroke-dasharray="14 3 2 3"/>
<line x1="233.40" y1="580.00" x2="233.40" y2="960.00" stroke="#000" stroke-width="1.30" stroke-dasharray="14 3 2 3"/>
<line x1="48.00" y1="686.50" x2="414.40" y2="686.50" stroke="#000" stroke-width="1.20" stroke-dasharray="14 3 2 3"/>
<line x1="48.00" y1="897.10" x2="414.40" y2="897.10" stroke="#000" stroke-width="1.20" stroke-dasharray="14 3 2 3"/>
<path d="M82.5 936 L82.5 647.8 L384.8 647.8 L384.8 936 Z" fill="none" stroke="#000" stroke-width="1.30"/>
<line x1="82.50" y1="680.40" x2="384.80" y2="680.40" stroke="#000" stroke-width="1.30"/>
<line x1="82.50" y1="692.10" x2="384.80" y2="692.10" stroke="#000" stroke-width="1.30"/>
<line x1="82.50" y1="891.40" x2="384.80" y2="891.40" stroke="#000" stroke-width="1.30"/>
<line x1="82.50" y1="903.10" x2="384.80" y2="903.10" stroke="#000" stroke-width="1.30"/>
<path d="M59.4 651.50 L81.3 651.50" fill="none" stroke="#000" stroke-width="1.30"/>
<path d="M58.8 651.50 L58.8 781.30" fill="none" stroke="#000" stroke-width="1.30"/>
<path d="M59.4 651.50 Q49 651.80 48.4 658.00 L48.1 673.80" fill="none" stroke="#000" stroke-width="1.30"/>
<rect x="49.40" y="676.30" width="10.60" height="21.20" rx="0.00" fill="none" stroke="#000" stroke-width="1.30"/>
<line x1="49.40" y1="681.30" x2="60.00" y2="681.30" stroke="#000" stroke-width="1.00"/>
<line x1="49.40" y1="686.30" x2="60.00" y2="686.30" stroke="#000" stroke-width="1.00"/>
<line x1="49.40" y1="691.30" x2="60.00" y2="691.30" stroke="#000" stroke-width="1.00"/>
<path d="M60 670.60 L80.6 670.60 L80.6 708.10 L60 708.10" fill="none" stroke="#000" stroke-width="1.30"/>
<path d="M46.2 672.50 L41.5 742.20 L37.5 742.50 L37.5 776.00" fill="none" stroke="#000" stroke-width="1.30"/>
<path d="M37.5 776.00 Q47 778.00 47.5 791.75" fill="none" stroke="#000" stroke-width="1.10"/>
<path d="M58.8 781.30 Q58.8 783.10 53.8 783.10" fill="none" stroke="#000" stroke-width="1.30"/>
<path d="M59.4 932.00 L81.3 932.00" fill="none" stroke="#000" stroke-width="1.30"/>
<path d="M58.8 932.00 L58.8 802.20" fill="none" stroke="#000" stroke-width="1.30"/>
<path d="M59.4 932.00 Q49 931.70 48.4 925.50 L48.1 909.70" fill="none" stroke="#000" stroke-width="1.30"/>
<rect x="49.40" y="886.00" width="10.60" height="21.20" rx="0.00" fill="none" stroke="#000" stroke-width="1.30"/>
<line x1="49.40" y1="902.20" x2="60.00" y2="902.20" stroke="#000" stroke-width="1.00"/>
<line x1="49.40" y1="897.20" x2="60.00" y2="897.20" stroke="#000" stroke-width="1.00"/>
<line x1="49.40" y1="892.20" x2="60.00" y2="892.20" stroke="#000" stroke-width="1.00"/>
<path d="M60 912.90 L80.6 912.90 L80.6 875.40 L60 875.40" fill="none" stroke="#000" stroke-width="1.30"/>
<path d="M46.2 911.00 L41.5 841.30 L37.5 841.00 L37.5 807.50" fill="none" stroke="#000" stroke-width="1.30"/>
<path d="M37.5 807.50 Q47 805.50 47.5 791.75" fill="none" stroke="#000" stroke-width="1.10"/>
<path d="M58.8 802.20 Q58.8 800.40 53.8 800.40" fill="none" stroke="#000" stroke-width="1.30"/>
<line x1="49.40" y1="697.50" x2="49.40" y2="886.00" stroke="#000" stroke-width="1.10"/>
<path d="M385 651.30 L403.5 651.30 Q406.3 651.30 406.3 655.00 L406.3 658.80 L411.3 661.30 L433.8 670.60" fill="none" stroke="#000" stroke-width="1.30"/>
<path d="M386.3 670.60 L406.3 670.60 L406.3 711.30 L386.3 711.30" fill="none" stroke="#000" stroke-width="1.30"/>
<path d="M385 932.20 L403.5 932.20 Q406.3 932.20 406.3 928.50 L406.3 924.70 L411.3 922.20 L433.8 912.90" fill="none" stroke="#000" stroke-width="1.30"/>
<path d="M386.3 912.90 L406.3 912.90 L406.3 872.20 L386.3 872.20" fill="none" stroke="#000" stroke-width="1.30"/>
<path d="M406.3 658.8 L406.3 775.6 Q406.3 777.5 409 777.5 L418 777.5 A14.25 14.25 0 0 1 418 806 L409 806 Q406.3 806 406.3 808" fill="none" stroke="#000" stroke-width="1.30"/>
<rect x="403.00" y="806.50" width="15.80" height="65.50" rx="2.00" fill="none" stroke="#000" stroke-width="1.30"/>
<line x1="403.00" y1="859.70" x2="418.80" y2="859.70" stroke="#000" stroke-width="1.00"/>
<line x1="406.30" y1="913.00" x2="406.30" y2="924.80" stroke="#000" stroke-width="1.30"/>
<path d="M445 740 L439.4 745 Q434.4 760 434.4 791.75 Q434.4 823 439.4 838.5 L445 843.5 L445 874" fill="none" stroke="#000" stroke-width="1.30"/>
<path d="M439.4 745 Q437 760 436.5 791.75 Q437 823 439.4 838.5" fill="none" stroke="#000" stroke-width="1.00"/>
<rect x="439.50" y="769.00" width="22.80" height="45.70" rx="0.00" fill="none" stroke="#000" stroke-width="1.30"/>
<rect x="462.30" y="773.70" width="82.20" height="35.90" rx="0.00" fill="none" stroke="#000" stroke-width="1.30"/>
<rect x="544.50" y="773.20" width="49.90" height="34.70" rx="0.00" fill="none" stroke="#000" stroke-width="1.30"/>
<line x1="544.50" y1="775.70" x2="594.40" y2="775.70" stroke="#000" stroke-width="1.00"/>
<line x1="544.50" y1="779.60" x2="594.40" y2="779.60" stroke="#000" stroke-width="1.20" stroke-dasharray="4 2"/>
<path d="M514.8 773.5 Q525 779.6 535.2 779.6 L535.2 773.5" fill="none" stroke="#000" stroke-width="1.00"/>
<path d="M594 785 L567.3 785 L567.3 798.6 L594 798.6" fill="none" stroke="#000" stroke-width="1.30" stroke-dasharray="4 2"/>
<path d="M557 786 Q552 786 552 791.8 Q552 797.5 557 797.5" fill="none" stroke="#000" stroke-width="1.00"/>
<circle cx="233.30" cy="603.30" r="24.20" fill="none" stroke="#000" stroke-width="1.30"/>
<circle cx="233.30" cy="603.30" r="14.70" fill="none" stroke="#000" stroke-width="1.30"/>
<line x1="206.00" y1="603.30" x2="261.00" y2="603.30" stroke="#000" stroke-width="1.10" stroke-dasharray="14 3 2 3"/>
<line x1="233.40" y1="588.00" x2="233.40" y2="618.00" stroke="#000" stroke-width="1.00"/>
<path d="M221.9 627.5 L221.9 624 Q222 619.5 233.4 619.5 Q244.8 619.5 245 624 L245 627.5" fill="none" stroke="#000" stroke-width="1.30"/>
<path d="M217.2 647.8 L217.2 627.5 L248.9 627.5 L248.9 647.8" fill="none" stroke="#000" stroke-width="1.30"/>
<rect x="83.50" y="705.70" width="141.70" height="160.30" rx="11.00" fill="none" stroke="#000" stroke-width="1.30"/>
<path d="M108.2 714.5 L200.5 714.5 L214.4 729 L214.4 838 L200.5 852.7 L108.2 852.7 L94.3 838 L94.3 729 Z" fill="none" stroke="#000" stroke-width="1.30"/>
<path d="M110 718.8 L198.7 718.8 L211.5 731 L211.5 836 L198.7 849 L110 849 L97.2 836 L97.2 731 Z" fill="none" stroke="#000" stroke-width="1.00"/>
<circle cx="94.80" cy="715.60" r="5.20" fill="#fff" stroke="#000" stroke-width="1.70"/>
<circle cx="94.80" cy="715.60" r="2.60" fill="none" stroke="#000" stroke-width="1.10"/>
<line x1="90.80" y1="715.60" x2="98.80" y2="715.60" stroke="#000" stroke-width="1.10"/>
<line x1="94.80" y1="711.60" x2="94.80" y2="719.60" stroke="#000" stroke-width="1.10"/>
<circle cx="213.50" cy="715.60" r="5.20" fill="#fff" stroke="#000" stroke-width="1.70"/>
<circle cx="213.50" cy="715.60" r="2.60" fill="none" stroke="#000" stroke-width="1.10"/>
<line x1="209.50" y1="715.60" x2="217.50" y2="715.60" stroke="#000" stroke-width="1.10"/>
<line x1="213.50" y1="711.60" x2="213.50" y2="719.60" stroke="#000" stroke-width="1.10"/>
<circle cx="95.20" cy="852.70" r="5.20" fill="#fff" stroke="#000" stroke-width="1.70"/>
<circle cx="95.20" cy="852.70" r="2.60" fill="none" stroke="#000" stroke-width="1.10"/>
<line x1="91.20" y1="852.70" x2="99.20" y2="852.70" stroke="#000" stroke-width="1.10"/>
<line x1="95.20" y1="848.70" x2="95.20" y2="856.70" stroke="#000" stroke-width="1.10"/>
<circle cx="213.50" cy="852.70" r="5.20" fill="#fff" stroke="#000" stroke-width="1.70"/>
<circle cx="213.50" cy="852.70" r="2.60" fill="none" stroke="#000" stroke-width="1.10"/>
<line x1="209.50" y1="852.70" x2="217.50" y2="852.70" stroke="#000" stroke-width="1.10"/>
<line x1="213.50" y1="848.70" x2="213.50" y2="856.70" stroke="#000" stroke-width="1.10"/>
<line x1="154.40" y1="698.80" x2="154.40" y2="871.30" stroke="#000" stroke-width="1.10" stroke-dasharray="14 3 2 3"/>
<path d="M310.95 830.20 L362.65 830.20 A7.95 7.95 0 0 1 362.65 846.10 L310.95 846.10 A7.95 7.95 0 0 1 310.95 830.20 Z" fill="none" stroke="#000" stroke-width="1.30"/>
<path d="M310.95 844.50 L362.65 844.50" fill="none" stroke="#000" stroke-width="0.90"/>
<path d="M310.00 857.30 L363.60 857.30 A7.00 7.00 0 0 1 363.60 871.30 L310.00 871.30 A7.00 7.00 0 0 1 310.00 857.30 Z" fill="none" stroke="#000" stroke-width="1.30"/>
<path d="M310.00 869.70 L363.60 869.70" fill="none" stroke="#000" stroke-width="0.90"/>
<path d="M307.70 882.00 L365.90 882.00 A4.70 4.70 0 0 1 365.90 891.40 L307.70 891.40 A4.70 4.70 0 0 1 307.70 882.00 Z" fill="none" stroke="#000" stroke-width="1.30"/>
<path d="M307.70 889.80 L365.90 889.80" fill="none" stroke="#000" stroke-width="0.90"/>
<path d="M307.00 903.60 L366.60 903.60 A4.00 4.00 0 0 1 366.60 911.60 L307.00 911.60 A4.00 4.00 0 0 1 307.00 903.60 Z" fill="none" stroke="#000" stroke-width="1.30"/>
<path d="M307.00 910.00 L366.60 910.00" fill="none" stroke="#000" stroke-width="0.90"/>
<path d="M100.70 903.90 L158.90 903.90 A3.70 3.70 0 0 1 158.90 911.30 L100.70 911.30 A3.70 3.70 0 0 1 100.70 903.90 Z" fill="none" stroke="#000" stroke-width="1.30"/>
<path d="M100.70 909.70 L158.90 909.70" fill="none" stroke="#000" stroke-width="0.90"/>
<path d="M99.70 918.80 L137.30 918.80 A2.70 2.70 0 0 1 137.30 924.20 L99.70 924.20 A2.70 2.70 0 0 1 99.70 918.80 Z" fill="none" stroke="#000" stroke-width="1.30"/>
<path d="M99.70 922.60 L137.30 922.60" fill="none" stroke="#000" stroke-width="0.90"/>
<path d="M99.75 927.50 L137.25 927.50 A2.75 2.75 0 0 1 137.25 933.00 L99.75 933.00 A2.75 2.75 0 0 1 99.75 927.50 Z" fill="none" stroke="#000" stroke-width="1.30"/>
<path d="M99.75 931.40 L137.25 931.40" fill="none" stroke="#000" stroke-width="0.90"/>
<path d="M327.70 918.80 L367.90 918.80 A2.70 2.70 0 0 1 367.90 924.20 L327.70 924.20 A2.70 2.70 0 0 1 327.70 918.80 Z" fill="none" stroke="#000" stroke-width="1.30"/>
<path d="M327.70 922.60 L367.90 922.60" fill="none" stroke="#000" stroke-width="0.90"/>
<path d="M327.75 927.50 L367.85 927.50 A2.75 2.75 0 0 1 367.85 933.00 L327.75 933.00 A2.75 2.75 0 0 1 327.75 927.50 Z" fill="none" stroke="#000" stroke-width="1.30"/>
<path d="M327.75 931.40 L367.85 931.40" fill="none" stroke="#000" stroke-width="0.90"/>
<path d="M111 956.6 L111 950 L118.7 948.3 C122 946 124 930 128 920 C131 914 134 912.6 140 912.6 L327 912.6 C333 912.6 336 914 339 920 C343 930 345 946 348 948.3 L355.5 950 L355.5 956.6 L278 956.6 L271 950.5 L196 950.5 L189 956.6 Z" fill="#fff" stroke="#000" stroke-width="1.30"/>
<line x1="195.10" y1="912.60" x2="195.10" y2="948.30" stroke="#000" stroke-width="1.30"/>
<line x1="271.70" y1="912.60" x2="271.70" y2="948.30" stroke="#000" stroke-width="1.30"/>
<path d="M124 935 C127 925 130 922.9 136 922.9 L195.1 922.9" fill="none" stroke="#000" stroke-width="1.30"/>
<path d="M271.7 922.9 L331 922.9 C337 922.9 340 925 343 935" fill="none" stroke="#000" stroke-width="1.30"/>
<line x1="111.00" y1="950.50" x2="192.00" y2="950.50" stroke="#000" stroke-width="1.00"/>
<line x1="275.00" y1="950.50" x2="355.50" y2="950.50" stroke="#000" stroke-width="1.00"/>
<line x1="124.20" y1="950.50" x2="124.20" y2="956.60" stroke="#000" stroke-width="1.00"/>
<line x1="140.70" y1="950.50" x2="140.70" y2="956.60" stroke="#000" stroke-width="1.00"/>
<line x1="161.60" y1="950.50" x2="161.60" y2="956.60" stroke="#000" stroke-width="1.00"/>
<line x1="176.00" y1="950.50" x2="176.00" y2="956.60" stroke="#000" stroke-width="1.00"/>
<line x1="289.30" y1="950.50" x2="289.30" y2="956.60" stroke="#000" stroke-width="1.00"/>
<line x1="304.80" y1="950.50" x2="304.80" y2="956.60" stroke="#000" stroke-width="1.00"/>
<line x1="326.80" y1="950.50" x2="326.80" y2="956.60" stroke="#000" stroke-width="1.00"/>
<line x1="341.10" y1="950.50" x2="341.10" y2="956.60" stroke="#000" stroke-width="1.00"/>
<line x1="132.10" y1="938.00" x2="132.10" y2="964.00" stroke="#000" stroke-width="1.10" stroke-dasharray="14 3 2 3"/>
<line x1="168.80" y1="938.00" x2="168.80" y2="964.00" stroke="#000" stroke-width="1.10" stroke-dasharray="14 3 2 3"/>
<line x1="296.90" y1="938.00" x2="296.90" y2="964.00" stroke="#000" stroke-width="1.10" stroke-dasharray="14 3 2 3"/>
<line x1="333.90" y1="938.00" x2="333.90" y2="964.00" stroke="#000" stroke-width="1.10" stroke-dasharray="14 3 2 3"/>
<line x1="710.00" y1="791.75" x2="1129.00" y2="791.75" stroke="#000" stroke-width="1.30" stroke-dasharray="14 3 2 3"/>
<line x1="983.50" y1="580.00" x2="983.50" y2="960.00" stroke="#000" stroke-width="1.30" stroke-dasharray="14 3 2 3"/>
<circle cx="983.50" cy="791.75" r="144.40" fill="none" stroke="#000" stroke-width="1.30"/>
<circle cx="983.50" cy="791.75" r="141.00" fill="none" stroke="#000" stroke-width="1.30"/>
<circle cx="983.50" cy="791.75" r="132.20" fill="none" stroke="#000" stroke-width="1.30"/>
<circle cx="983.50" cy="791.75" r="120.70" fill="none" stroke="#000" stroke-width="1.30"/>
<path d="M1007.98 712.65 A82.80 82.80 0 1 1 952.88 714.82" fill="none" stroke="#000" stroke-width="1.30"/>
<path d="M1005.77 719.82 A75.30 75.30 0 1 1 955.66 721.79" fill="none" stroke="#000" stroke-width="1.30"/>
<circle cx="983.50" cy="791.75" r="46.20" fill="none" stroke="#000" stroke-width="1.30"/>
<circle cx="983.50" cy="791.75" r="32.00" fill="none" stroke="#000" stroke-width="1.30"/>
<circle cx="983.50" cy="791.75" r="24.50" fill="none" stroke="#000" stroke-width="1.30"/>
<circle cx="983.50" cy="791.75" r="23.20" fill="none" stroke="#000" stroke-width="1.30"/>
<circle cx="983.50" cy="791.75" r="18.70" fill="none" stroke="#000" stroke-width="1.30"/>
<circle cx="983.50" cy="791.75" r="17.30" fill="none" stroke="#000" stroke-width="1.30"/>
<circle cx="983.50" cy="791.75" r="6.10" fill="none" stroke="#000" stroke-width="2.00"/>
<circle cx="983.00" cy="775.70" r="3.50" fill="none" stroke="#000" stroke-width="1.00"/>
<path d="M937.54 745.79 A65.00 65.00 0 0 1 1029.46 745.79" fill="none" stroke="#000" stroke-width="1.30"/>
<line x1="942.49" y1="750.74" x2="895.11" y2="703.36" stroke="#000" stroke-width="1.30"/>
<path d="M891.35 736.38 A107.50 107.50 0 0 1 928.13 699.60" fill="none" stroke="#000" stroke-width="1.20" stroke-dasharray="9 3.5"/>
<circle cx="907.49" cy="715.74" r="5.50" fill="#fff" stroke="#000" stroke-width="1.60"/>
<circle cx="907.49" cy="715.74" r="2.80" fill="none" stroke="#000" stroke-width="1.00"/>
<line x1="904.49" y1="718.74" x2="910.49" y2="712.74" stroke="#000" stroke-width="0.90"/>
<line x1="1024.51" y1="750.74" x2="1071.89" y2="703.36" stroke="#000" stroke-width="1.30"/>
<path d="M1038.87 699.60 A107.50 107.50 0 0 1 1075.65 736.38" fill="none" stroke="#000" stroke-width="1.20" stroke-dasharray="9 3.5"/>
<circle cx="1059.51" cy="715.74" r="5.50" fill="#fff" stroke="#000" stroke-width="1.60"/>
<circle cx="1059.51" cy="715.74" r="2.80" fill="none" stroke="#000" stroke-width="1.00"/>
<line x1="1056.51" y1="718.74" x2="1062.51" y2="712.74" stroke="#000" stroke-width="0.90"/>
<line x1="917.74" y1="857.51" x2="892.99" y2="882.26" stroke="#000" stroke-width="1.30"/>
<path d="M928.13 883.90 A107.50 107.50 0 0 1 891.35 847.12" fill="none" stroke="#000" stroke-width="1.20" stroke-dasharray="9 3.5"/>
<circle cx="907.49" cy="867.76" r="5.50" fill="#fff" stroke="#000" stroke-width="1.60"/>
<circle cx="907.49" cy="867.76" r="2.80" fill="none" stroke="#000" stroke-width="1.00"/>
<line x1="904.49" y1="870.76" x2="910.49" y2="864.76" stroke="#000" stroke-width="0.90"/>
<line x1="1049.26" y1="857.51" x2="1074.01" y2="882.26" stroke="#000" stroke-width="1.30"/>
<path d="M1075.65 847.12 A107.50 107.50 0 0 1 1038.87 883.90" fill="none" stroke="#000" stroke-width="1.20" stroke-dasharray="9 3.5"/>
<circle cx="1059.51" cy="867.76" r="5.50" fill="#fff" stroke="#000" stroke-width="1.60"/>
<circle cx="1059.51" cy="867.76" r="2.80" fill="none" stroke="#000" stroke-width="1.00"/>
<line x1="1056.51" y1="870.76" x2="1062.51" y2="864.76" stroke="#000" stroke-width="0.90"/>
<circle cx="878.49" cy="686.74" r="14.80" fill="#fff" stroke="#fff" stroke-width="0.01"/>
<path d="M879.78 701.49 A14.80 14.80 0 1 1 893.24 688.03" fill="none" stroke="#000" stroke-width="1.30"/>
<line x1="860.11" y1="702.30" x2="894.05" y2="668.36" stroke="#000" stroke-width="1.20"/>
<line x1="917.74" y1="725.99" x2="861.88" y2="670.13" stroke="#000" stroke-width="1.20" stroke-dasharray="14 3 2 3"/>
<circle cx="878.49" cy="686.74" r="5.80" fill="#fff" stroke="#000" stroke-width="1.70"/>
<line x1="874.99" y1="683.24" x2="881.99" y2="690.24" stroke="#000" stroke-width="1.00"/>
<line x1="874.99" y1="690.24" x2="881.99" y2="683.24" stroke="#000" stroke-width="1.00"/>
<circle cx="1088.51" cy="686.74" r="14.80" fill="#fff" stroke="#fff" stroke-width="0.01"/>
<path d="M1073.76 688.03 A14.80 14.80 0 1 1 1087.22 701.49" fill="none" stroke="#000" stroke-width="1.30"/>
<line x1="1072.95" y1="668.36" x2="1106.89" y2="702.30" stroke="#000" stroke-width="1.20"/>
<line x1="1049.26" y1="725.99" x2="1105.12" y2="670.13" stroke="#000" stroke-width="1.20" stroke-dasharray="14 3 2 3"/>
<circle cx="1088.51" cy="686.74" r="5.80" fill="#fff" stroke="#000" stroke-width="1.70"/>
<line x1="1085.01" y1="683.24" x2="1092.01" y2="690.24" stroke="#000" stroke-width="1.00"/>
<line x1="1085.01" y1="690.24" x2="1092.01" y2="683.24" stroke="#000" stroke-width="1.00"/>
<circle cx="878.49" cy="896.76" r="14.80" fill="#fff" stroke="#fff" stroke-width="0.01"/>
<path d="M893.24 895.47 A14.80 14.80 0 1 1 879.78 882.01" fill="none" stroke="#000" stroke-width="1.30"/>
<line x1="894.05" y1="915.14" x2="860.11" y2="881.20" stroke="#000" stroke-width="1.20"/>
<line x1="917.74" y1="857.51" x2="861.88" y2="913.37" stroke="#000" stroke-width="1.20" stroke-dasharray="14 3 2 3"/>
<circle cx="878.49" cy="896.76" r="5.80" fill="#fff" stroke="#000" stroke-width="1.70"/>
<line x1="874.99" y1="893.26" x2="881.99" y2="900.26" stroke="#000" stroke-width="1.00"/>
<line x1="874.99" y1="900.26" x2="881.99" y2="893.26" stroke="#000" stroke-width="1.00"/>
<circle cx="1088.51" cy="896.76" r="14.80" fill="#fff" stroke="#fff" stroke-width="0.01"/>
<path d="M1087.22 882.01 A14.80 14.80 0 1 1 1073.76 895.47" fill="none" stroke="#000" stroke-width="1.30"/>
<line x1="1106.89" y1="881.20" x2="1072.95" y2="915.14" stroke="#000" stroke-width="1.20"/>
<line x1="1049.26" y1="857.51" x2="1105.12" y2="913.37" stroke="#000" stroke-width="1.20" stroke-dasharray="14 3 2 3"/>
<circle cx="1088.51" cy="896.76" r="5.80" fill="#fff" stroke="#000" stroke-width="1.70"/>
<line x1="1085.01" y1="893.26" x2="1092.01" y2="900.26" stroke="#000" stroke-width="1.00"/>
<line x1="1085.01" y1="900.26" x2="1092.01" y2="893.26" stroke="#000" stroke-width="1.00"/>
<line x1="943.57" y1="892.10" x2="1076.10" y2="558.30" stroke="#000" stroke-width="1.30"/>
<line x1="936.13" y1="889.14" x2="951.00" y2="895.05" stroke="#000" stroke-width="1.30"/>
<path d="M978.8 620 L978.8 584 Q978.8 580.5 983.2 580.5 Q987.5 580.5 987.5 584 L987.5 620" fill="none" stroke="#000" stroke-width="1.30"/>
<path d="M971 627.3 L971 623 Q971 620 975 620 L990.5 620 Q994.5 620 994.5 623 L994.5 627.3" fill="none" stroke="#000" stroke-width="1.30"/>
<path d="M967.5 642 L967.5 627.3 L999.5 627.3 L999.5 644" fill="none" stroke="#000" stroke-width="1.30"/>
<path d="M733 855 Q735 780 742.9 723.6 Q744 719 750.5 719 L788.6 715.3" fill="none" stroke="#000" stroke-width="1.30"/>
<path d="M802.3 718.3 L820.6 725.2 Q824.9 728 824.9 734 L824.9 845 Q824.9 855 815 855 L744.4 855 Q733 855 733 850" fill="none" stroke="#000" stroke-width="1.30"/>
<path d="M800.5 707.6 L733.5 858 M806.5 710 L739.5 861 M800.5 707.6 Q804 705 806.5 710 M733.5 858 Q735 864 739.5 861" fill="none" stroke="#000" stroke-width="1.30"/>
<rect x="756.60" y="855.40" width="50.30" height="3.50" rx="0.00" fill="none" stroke="#000" stroke-width="0.90"/>
<line x1="825.20" y1="738.00" x2="825.20" y2="845.70" stroke="#000" stroke-width="1.30"/>
<line x1="832.00" y1="738.00" x2="832.00" y2="845.70" stroke="#000" stroke-width="1.30"/>
<path d="M832 738 Q834 733.5 840 733.5 L850.3 733.5" fill="none" stroke="#000" stroke-width="1.30"/>
<path d="M832 845.7 Q834 849.5 840 849.5 L850.3 849.5" fill="none" stroke="#000" stroke-width="1.30"/>
<line x1="825.20" y1="738.00" x2="832.00" y2="738.00" stroke="#000" stroke-width="1.30"/>
<path d="M824.4 957 L824.4 947.8 L898.3 915.8" fill="none" stroke="#000" stroke-width="1.30"/>
<path d="M824.4 947.8 L867 947.8 L880.8 924.2" fill="none" stroke="#000" stroke-width="1.30"/>
<path d="M824.4 957 L864.8 957 L872.4 954 L1095 954 L1099.7 957.4 L1143 957.4" fill="none" stroke="#000" stroke-width="1.30"/>
<path d="M867 947.8 L1100 947.8 L1087 924.5" fill="none" stroke="#000" stroke-width="1.30"/>
<path d="M1063.2 913.2 L1136.3 947.5 L1143 947.5" fill="none" stroke="#000" stroke-width="1.30"/>
<line x1="1099.70" y1="949.70" x2="1143.00" y2="949.70" stroke="#000" stroke-width="1.00"/>
<line x1="838.00" y1="948.00" x2="838.00" y2="956.60" stroke="#000" stroke-width="0.90"/>
<line x1="852.00" y1="948.00" x2="852.00" y2="956.60" stroke="#000" stroke-width="0.90"/>
<line x1="862.00" y1="948.00" x2="862.00" y2="956.60" stroke="#000" stroke-width="0.90"/>
<line x1="1112.00" y1="948.00" x2="1112.00" y2="956.60" stroke="#000" stroke-width="0.90"/>
<line x1="1128.00" y1="948.00" x2="1128.00" y2="956.60" stroke="#000" stroke-width="0.90"/>
<line x1="1135.00" y1="948.00" x2="1135.00" y2="956.60" stroke="#000" stroke-width="0.90"/>
<line x1="845.80" y1="934.90" x2="845.80" y2="960.00" stroke="#000" stroke-width="1.10" stroke-dasharray="14 3 2 3"/>
</svg>
</body></html>
